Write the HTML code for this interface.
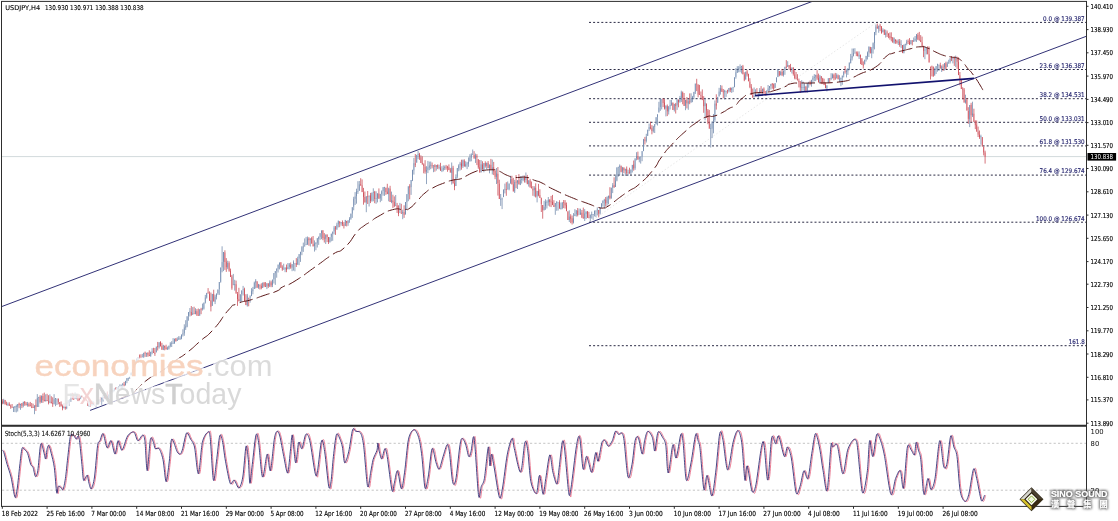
<!DOCTYPE html><html><head><meta charset="utf-8"><style>html,body{margin:0;padding:0;background:#fff;}svg{display:block;}</style></head><body><svg width="1118" height="521" viewBox="0 0 1118 521"><rect width="1118" height="521" fill="#fff"/><defs><clipPath id="cm"><rect x="2" y="2" width="1084" height="423"/></clipPath><clipPath id="cs"><rect x="2" y="427" width="1084" height="79"/></clipPath></defs><g clip-path="url(#cm)"><line x1="2" y1="156.6" x2="1086" y2="156.6" stroke="#d2dadc" stroke-width="1"/><line x1="590" y1="222" x2="877" y2="22" stroke="#dcdcdc" stroke-width="0.7" stroke-dasharray="1.5 2"/><line x1="589" y1="22.4" x2="1086" y2="22.4" stroke="#2a2a44" stroke-width="1" stroke-dasharray="2 2.1"/><text x="1084.7" y="20.7" font-family="'DejaVu Sans', 'Liberation Sans', sans-serif" font-size="6.4" fill="#24246e" stroke="#24246e" stroke-width="0.15" text-anchor="end" textLength="41.6" lengthAdjust="spacingAndGlyphs">0.0 @ 139.387</text><line x1="589" y1="69.5" x2="1086" y2="69.5" stroke="#2a2a44" stroke-width="1" stroke-dasharray="2 2.1"/><text x="1084.7" y="67.8" font-family="'DejaVu Sans', 'Liberation Sans', sans-serif" font-size="6.4" fill="#24246e" stroke="#24246e" stroke-width="0.15" text-anchor="end" textLength="45.1" lengthAdjust="spacingAndGlyphs">23.6 @ 136.387</text><line x1="589" y1="98.7" x2="1086" y2="98.7" stroke="#2a2a44" stroke-width="1" stroke-dasharray="2 2.1"/><text x="1084.7" y="97.0" font-family="'DejaVu Sans', 'Liberation Sans', sans-serif" font-size="6.4" fill="#24246e" stroke="#24246e" stroke-width="0.15" text-anchor="end" textLength="45.1" lengthAdjust="spacingAndGlyphs">38.2 @ 134.531</text><line x1="589" y1="122.3" x2="1086" y2="122.3" stroke="#2a2a44" stroke-width="1" stroke-dasharray="2 2.1"/><text x="1084.7" y="120.6" font-family="'DejaVu Sans', 'Liberation Sans', sans-serif" font-size="6.4" fill="#24246e" stroke="#24246e" stroke-width="0.15" text-anchor="end" textLength="45.1" lengthAdjust="spacingAndGlyphs">50.0 @ 133.031</text><line x1="589" y1="145.9" x2="1086" y2="145.9" stroke="#2a2a44" stroke-width="1" stroke-dasharray="2 2.1"/><text x="1084.7" y="144.2" font-family="'DejaVu Sans', 'Liberation Sans', sans-serif" font-size="6.4" fill="#24246e" stroke="#24246e" stroke-width="0.15" text-anchor="end" textLength="45.1" lengthAdjust="spacingAndGlyphs">61.8 @ 131.530</text><line x1="589" y1="175.1" x2="1086" y2="175.1" stroke="#2a2a44" stroke-width="1" stroke-dasharray="2 2.1"/><text x="1084.7" y="173.4" font-family="'DejaVu Sans', 'Liberation Sans', sans-serif" font-size="6.4" fill="#24246e" stroke="#24246e" stroke-width="0.15" text-anchor="end" textLength="45.1" lengthAdjust="spacingAndGlyphs">76.4 @ 129.674</text><line x1="589" y1="222.2" x2="1086" y2="222.2" stroke="#2a2a44" stroke-width="1" stroke-dasharray="2 2.1"/><text x="1084.7" y="220.5" font-family="'DejaVu Sans', 'Liberation Sans', sans-serif" font-size="6.4" fill="#24246e" stroke="#24246e" stroke-width="0.15" text-anchor="end" textLength="48.7" lengthAdjust="spacingAndGlyphs">100.0 @ 126.674</text><line x1="589" y1="345.7" x2="1086" y2="345.7" stroke="#2a2a44" stroke-width="1" stroke-dasharray="2 2.1"/><text x="1084.7" y="344.0" font-family="'DejaVu Sans', 'Liberation Sans', sans-serif" font-size="6.4" fill="#24246e" stroke="#24246e" stroke-width="0.15" text-anchor="end" textLength="15.9" lengthAdjust="spacingAndGlyphs">161.8</text><path d="M3.7 400.4V403.2M7.9 404.2V405M13.5 407.3V408.1M14.9 406.1V407.8M16.3 406V406.8M17.7 404V406.7M20.5 403.8V405M23.3 401.8V405.7M27.5 403.9V405.1M34.5 405.3V408.1M37.3 398.1V406.9M38.7 396.9V397.7M41.5 395.6V401.8M45.7 399.9V401.4M49.9 401.6V402.4M54.1 399.2V403.8M55.5 398.2V399M56.9 398.4V399.2M63.9 406.8V408.2M66.7 402.3V408.1M68.1 400.2V402.8M69.5 399.4V400.3M70.9 397.2V398.9M75.1 396.4V399M76.5 394.5V396.8M80.7 396.5V399.2M89.1 401.4V402.2M91.9 404.8V405.6M93.3 403V404.8M96.1 403.4V405.8M97.5 402.5V403.3M98.9 399.8V403.3M101.7 397.6V399.4M103.1 396.6V398M105.9 396.3V398.5M108.7 394.5V398M110.1 390.3V394.2M112.9 389.8V391.3M114.3 388.3V389.4M117.1 387.3V389.6M118.5 386.9V387.7M119.9 386V387.1M121.3 385.2V386M122.7 384.2V385.2M125.5 381V385.4M126.9 378.1V380.6M128.3 377.8V378.6M129.7 376.8V378.4M131.1 372.5V375.3M132.5 369.2V372.6M133.9 363.9V368.1M135.3 361.3V363.8M136.7 358.7V361.4M138.1 357.6V358.4M142.3 356.7V357.5M143.7 352.8V356.6M146.5 352.8V353.6M150.7 351.8V356.3M152.1 351.5V352.3M156.3 346.6V352.4M159.1 342.2V347.3M163.3 345.2V349.8M167.5 348.5V349.3M168.9 345.7V348.7M170.3 343.6V345.8M171.7 342.9V343.7M173.1 342.9V343.7M174.5 338.7V343.3M177.3 339.5V340.9M178.7 338.5V339.3M180.1 338.3V339.1M181.5 334.5V338.5M182.9 333.4V334.5M184.3 327.5V333.3M185.7 326.4V327.6M187.1 316.3V326.7M188.5 312.1V315.8M189.9 311.5V312.3M192.7 313.4V314.8M195.5 310.9V314.1M199.7 309.2V315.7M202.5 308.2V309M203.9 302.6V308.6M205.3 297.6V302.7M206.7 292.9V297.5M212.3 293.9V305.9M215.1 296.7V301.9M216.5 293.5V296.7M217.9 289.5V293.2M219.3 282V289.2M220.7 267.5V281.8M222.1 262.1V267.4M223.5 252V261.7M227.7 263V267.5M233.3 284.6V285.4M234.7 284V285.1M240.3 294.3V301.1M241.7 290.4V294M243.1 289.2V290M247.3 295.5V305.5M250.1 296.3V297.6M251.5 291.2V296M252.9 289.3V291.3M254.3 282.8V289M255.7 280.7V282.7M258.5 284.3V287.5M262.7 282.6V288M266.9 283.2V286.5M269.7 282.3V286.3M272.5 279.6V284.9M273.9 273.2V279.3M275.3 271.1V273.2M276.7 268.5V270.8M278.1 264.6V268.7M279.5 262.5V264.8M283.7 269.1V269.9M285.1 268V269.2M287.9 267.1V269.2M289.3 264.4V267.1M292.1 264.1V267.6M293.5 261.9V263.8M294.9 263V263.8M297.7 258.8V264.5M299.1 254.1V258.5M300.5 251.8V254.5M301.9 247.2V251.5M303.3 246.6V247.4M304.7 245.6V246.5M306.1 244.4V245.2M307.5 238.5V244.7M310.3 238.3V240M314.5 243.5V245.9M315.9 242.4V243.9M317.3 238.4V242.7M318.7 236.6V238.9M320.1 233.5V236.9M321.5 230.4V233.1M325.7 234.9V238.8M329.9 237.2V242.3M331.3 233.7V236.8M332.7 231.6V233.8M334.1 227.5V231.4M336.9 224.7V228.9M338.3 220.7V224.4M341.1 222V223.4M345.3 220.1V225.8M348.1 220.3V223.3M349.5 219V220M350.9 213.6V218.8M352.3 207.2V213.5M353.7 198.8V206.7M355.1 196.5V198.8M356.5 191.4V196.1M357.9 191.2V192M359.3 184.4V190.8M366.3 196.2V202.6M369.1 195.6V196.5M371.9 192.6V200.6M373.3 192.2V193M376.1 198.2V199.1M377.5 193.3V198.4M380.3 193.9V198.4M381.7 191.4V193.9M383.1 187.4V191.1M384.5 186.9V187.7M388.7 188.4V194.3M391.5 200.2V201.9M395.7 205.4V206.2M399.9 212.2V213M402.7 211.8V213.3M405.5 202V214.5M406.9 194.1V202.2M408.3 186.3V194.2M411.1 180V187.1M412.5 170V180.5M413.9 163.2V170.4M416.7 154.9V162.7M418.1 154.1V155.1M426.5 170.2V171.5M427.9 167.3V169.8M429.3 165.5V167.7M430.7 164.8V165.6M433.5 165.2V166M436.3 165.1V166.8M439.1 167.1V167.9M441.9 169.7V170.5M443.3 168.1V169.8M444.7 167.1V168.2M451.7 167.7V172.9M455.9 177V186M457.3 168V176.7M458.7 165.6V168.4M460.1 163.5V165.2M462.9 160.2V166.2M465.7 164.3V166M467.1 163.5V164.3M468.5 161.8V163.7M469.9 157.5V161.5M471.3 154.5V157.7M472.7 154.4V155.2M475.5 155.5V159M481.1 164.3V172.4M483.9 163.1V169.8M486.7 162.9V166M489.5 164.5V168.1M492.3 167.5V169.6M496.5 173.4V176.9M500.7 198.9V199.7M502.1 198.6V199.4M503.5 189.5V197.1M504.9 188.9V189.7M507.7 188.9V189.7M509.1 183.5V189.3M510.5 179.1V183.6M514.7 182V191.6M517.5 180.2V182.5M520.3 179.8V184.9M521.7 179.2V180M523.1 178V179.8M525.9 177.3V179.9M528.7 180.3V184.2M534.3 187.8V190.1M537.1 190.9V196.4M544.1 206.8V210.2M545.5 201.9V206.3M546.9 201.8V202.6M548.3 199.7V202.3M555.3 203V206.6M556.7 201.8V203.3M558.1 201.9V202.7M560.9 208.2V209M562.3 202.3V208M569.3 216.6V220.1M573.5 218.3V222.6M574.9 214.4V216.1M576.3 210.2V214.2M579.1 214.1V214.9M580.5 212.6V214.8M584.7 213.5V218.3M586.1 211.8V213.8M590.3 214.6V217.9M591.7 214V214.8M593.1 214V214.8M594.5 211.1V214.1M595.9 210.4V211.2M597.3 209.5V210.4M600.1 207.1V213.5M601.5 203.3V206.7M602.9 200.5V203M604.3 199.9V200.7M607.1 197.3V203M608.5 195.7V197.7M611.3 187.7V198.4M612.7 185.3V187.6M615.5 180.6V186.9M616.9 167.4V180.6M618.3 166.7V167.5M619.7 165.8V167.1M622.5 167.7V171.7M625.3 168.8V170.7M628.1 172.4V173.2M630.9 169.5V173.3M632.3 164.9V169.4M635.1 158.5V168.2M636.5 156.3V158.1M639.3 157.1V159.2M640.7 156.4V157.2M642.1 151.1V156.2M643.5 139.3V150.9M646.3 136.6V141M647.7 129.7V135.9M649.1 127.1V129.2M653.3 126.5V131.2M654.7 124.1V126.9M656.1 117.2V124.2M657.5 114.3V116.8M658.9 107.5V112.5M660.3 98.6V107M661.7 98.9V99.7M665.9 106V108.6M668.7 106.2V111.5M670.1 105V106.1M671.5 102.7V104.9M674.3 104V109.8M677.1 100V105.3M679.9 99.9V101.8M681.3 92.3V100.1M685.5 99.8V105.7M688.3 101.3V103.7M691.1 98.5V102.4M692.5 97.1V98.1M693.9 91.9V97M695.3 83.6V92.3M705.1 102.7V106.1M710.7 128.1V128.9M712.1 121.6V128.7M713.5 120.2V121.4M714.9 103.6V119.9M717.7 96.9V102.8M719.1 91.6V96.5M720.5 88.2V91.7M724.7 90.5V92.2M726.1 90.6V91.4M728.9 88V91.1M731.7 87.7V90M733.1 86.7V87.5M734.5 77.3V87.2M735.9 72.3V76.9M737.3 69.7V72.8M738.7 68.2V69.3M740.1 66.8V68.2M741.5 65.9V66.9M745.7 71.7V79.6M754.1 95.8V96.9M755.5 92.7V95.4M758.3 92.2V93.5M759.7 90.3V92.1M762.5 88.7V93.2M766.7 90.9V94.6M768.1 88.4V90.9M769.5 86V88M770.9 83.9V86.1M775.1 83.1V87.9M776.5 77.4V82.3M777.9 69.2V77.1M780.7 72.1V75.3M783.5 70.5V74.9M784.9 66.8V70.3M787.7 65.1V66.9M791.9 68V68.8M801.7 86.9V87.7M803.1 87V87.8M804.5 86.8V87.6M807.3 82.8V90.3M808.7 82.4V83.2M811.5 79.9V84M812.9 77.9V79.8M814.3 77.1V78M815.7 74.8V76.7M819.9 76.3V82.2M826.9 85.3V88.3M828.3 78.2V83.1M831.1 77.8V78.9M832.5 74.6V78M836.7 75V78.4M839.5 78.7V79.5M840.9 77.7V79.2M842.3 75.6V77.5M843.7 71.4V75.1M846.5 70.9V71.8M847.9 68.3V71.3M849.3 62.5V68.7M850.7 58.8V63M852.1 56V58.4M853.5 53.2V55.8M854.9 52.9V53.7M859.1 55.1V56.5M864.7 59.7V64.4M866.1 55.9V59.4M867.5 52.6V56.3M868.9 46.5V52.2M871.7 48.7V53.1M873.1 43.2V48.5M874.5 32V43.1M875.9 26.6V32.4M878.7 25.7V29M882.9 29.9V32.3M885.7 32.8V35M894.1 38.2V42.7M898.3 41.8V42.6M901.1 44.2V45M903.9 44.6V52.7M905.3 43.8V44.8M906.7 41.7V43.6M910.9 40.4V44.3M913.7 40.2V41.8M915.1 38.8V40.4M916.5 34.5V38.7M924.9 49.5V50.7M926.3 48.6V49.4M934.7 69.5V75.6M936.1 66.1V69.6M937.5 63.8V65.7M938.9 64.4V65.2M941.7 66.3V69M944.5 63.1V67.1M947.3 63.5V66.9M948.7 62.5V63.4M950.1 58.5V62.1M952.9 57.6V58.6M955.7 58.5V59.3M965.5 100.3V102.5M969.7 105V119.3M972.5 113.6V115.4M980.9 136V137.2" stroke="#a4b8d6" stroke-width="0.85" fill="none"/><path d="M2.3 401.5V403.3M5.1 400V404.5M6.5 404.4V405.2M9.3 404.1V405.9M10.7 405.8V406.6M12.1 406.9V407.8M19.1 403.8V405.1M21.9 403.3V405.9M24.7 401.6V403.6M26.1 403.6V404.9M28.9 404.3V405.9M30.3 405.4V406.3M31.7 406.7V407.6M33.1 407.2V408M35.9 404.8V406.8M40.1 396.7V402M42.9 396V400.2M44.3 399.9V401.3M47.1 400V401.1M48.5 401.4V402.5M51.3 401.9V403.4M52.7 403.2V404M58.3 398.8V402M59.7 402.1V403.9M61.1 403.9V406.4M62.5 405.9V408.2M65.3 407V408.2M72.3 397.4V399.3M73.7 398.8V399.6M77.9 394.7V398.9M79.3 398.7V400.3M82.1 396.5V397.6M83.5 397.3V399.2M84.9 399.1V400M86.3 400.3V401.1M87.7 401.4V402.2M90.5 401.4V406.3M94.7 402.8V405.6M100.3 399.3V400.1M104.5 396.8V398.1M107.3 396.4V397.8M111.5 390.4V391.2M115.7 388.6V389.6M124.1 384.4V386M139.5 356.9V357.7M140.9 356.9V357.9M145.1 352.7V353.5M147.9 352.6V354.7M149.3 354.9V356.1M153.5 351.8V352.9M154.9 352.7V353.9M157.7 346.1V347M160.5 342V346.4M161.9 346.1V349.8M164.7 345.7V347.6M166.1 347.5V349.3M175.9 338.2V341.1M191.3 312V315.4M194.1 313.5V314.3M196.9 311.2V314.7M198.3 314.9V315.8M201.1 308.9V309.7M208.1 292.6V293.5M209.5 293.8V300.8M210.9 300.4V306.8M213.7 294V301.5M224.9 252.5V262M226.3 261.7V267.2M229.1 263.1V270.8M230.5 270.8V277M231.9 276.5V288.3M236.1 284.3V293.6M237.5 294.1V299M238.9 299.3V301.3M244.5 289.4V301.3M245.9 301.3V305.1M248.7 297.6V298.4M257.1 281.3V287.8M259.9 284.6V285.4M261.3 285.8V288.2M264.1 282.9V285.8M265.5 286V286.9M268.3 283.4V286.2M271.1 282.4V285.3M280.9 262.2V267.8M282.3 267.5V269.5M286.5 267.6V270M290.7 264.7V267.5M296.3 263V264.8M308.9 238.5V240.2M311.7 238.2V243.7M313.1 244.2V246.4M322.9 230.7V238.1M324.3 237.7V238.5M327.1 234.9V237M328.5 237V242.1M335.5 227.6V228.6M339.7 221.3V223.2M342.5 222.4V224.2M343.9 224.5V225.8M346.7 220.9V222.9M360.7 184.3V185.7M362.1 185.3V192.1M363.5 192.6V196.9M364.9 197V202.5M367.7 196.3V197.1M370.5 195.4V201.1M374.7 191.8V199M378.9 193.6V198.8M385.9 187.7V192M387.3 191.7V194.1M390.1 188.7V202M392.9 200.6V202.2M394.3 202.1V206.2M397.1 205.5V208.8M398.5 208.7V214M401.3 212.9V213.8M404.1 212.2V214.8M409.7 186.3V187.5M415.3 163.5V164.8M419.5 154.3V157.2M420.9 157.3V163M422.3 163.1V164.6M423.7 164.6V166.1M425.1 166.6V171.7M432.1 165.2V166.3M434.9 165.1V167M437.7 164.7V167.3M440.5 167.5V170.6M446.1 166.7V167.5M447.5 166.8V167.6M448.9 167.2V170.1M450.3 169.6V172.6M453.1 167.8V183.5M454.5 183.3V186.7M461.5 163.4V166.6M464.3 160.7V166.4M474.1 155V158.6M476.9 155.8V157.5M478.3 159.2V167.3M479.7 167.3V172.6M482.5 164.6V169.7M485.3 163.1V165.7M488.1 162.8V168.2M490.9 164.8V169.6M493.7 167.2V171.4M495.1 171V176.8M497.9 173.8V183.3M499.3 183.7V199M506.3 189.2V190M511.9 178.9V184.4M513.3 184.3V191.5M516.1 181.6V182.6M518.9 180.3V184.4M524.5 178V180.2M527.3 177.8V184.2M530.1 180.7V186.9M531.5 187.3V188.4M532.9 188.8V190.4M535.7 187.8V196.7M538.5 191V195.2M539.9 195.1V198M541.3 198.2V203.9M542.7 205V210.3M549.7 199.7V202M551.1 201.5V202.3M552.5 202V205.1M553.9 205.2V207M559.5 202.3V208.7M563.7 202.2V203M565.1 202.8V205.4M566.5 205.1V211.2M567.9 211.3V220M570.7 216.5V218.8M572.1 218.3V222.5M577.7 210.7V215M581.9 212.7V217.5M583.3 217.5V218.6M587.5 211.6V217.9M588.9 217.6V218.4M598.7 210V213.7M605.7 199.6V203.5M609.9 195.7V198.1M614.1 185.2V187.2M621.1 166.2V171.8M623.9 167.8V170.3M626.7 168.8V173.2M629.5 172.5V173.3M633.7 164.5V168.4M637.9 156.2V159.5M644.9 139.7V140.6M650.5 127.3V128.3M651.9 128.2V131M663.1 99.1V103M664.5 102.6V108.5M667.3 106.3V111.3M672.9 103V110M675.7 104.4V105.8M678.5 99.7V102.1M682.7 92.5V97.8M684.1 98.1V106M686.9 100.2V103.3M689.7 101.5V102.3M696.7 83.6V84.4M698.1 84.4V94.6M699.5 94.2V95M700.9 95.3V96.1M702.3 96.1V100.1M703.7 99.7V106.2M706.5 103.5V110.3M707.9 110.5V122.4M709.3 122.2V128.7M716.3 103.5V105.6M721.9 88.5V91.9M723.3 91.5V92.3M727.5 90.5V91.3M730.3 87.9V90.1M742.9 66.3V74.3M744.3 74.4V80.3M747.1 71.4V74.6M748.5 74.1V81.3M749.9 81.7V87.1M751.3 86.8V95M752.7 95.4V97.3M756.9 92.5V93.3M761.1 90.1V93.5M763.9 88.7V93.6M765.3 93.6V94.4M772.3 83.8V84.6M773.7 84.3V89.2M779.3 71V75.3M782.1 71.9V74.9M786.3 66.7V67.5M789.1 65.1V67.6M790.5 67.6V68.9M793.3 68V74M794.7 74.5V78.7M796.1 78.7V79.5M797.5 79.6V80.4M798.9 80.7V82.3M800.3 82.5V87.6M805.9 86.9V90.8M810.1 82.2V84.2M817.1 75.2V78.5M818.5 78.2V82.4M821.3 76.4V78.6M822.7 78.5V82.3M824.1 82V85.1M825.5 84.7V88.2M829.7 78.1V78.9M833.9 75.1V78.1M835.3 77.7V78.5M838.1 75.4V79.1M845.1 70.9V71.7M856.3 52.6V53.4M857.7 53.4V56.3M860.5 55.2V56.9M861.9 58.2V64.9M863.3 64.5V65.7M870.3 46.9V53.4M877.3 26.8V28.6M880.1 25.5V26.7M881.5 26.7V33.5M884.3 29.6V34.9M887.1 32.5V33.3M888.5 33.4V35.4M889.9 35.8V37.7M891.3 37.2V38M892.7 37.7V42.6M895.5 39.4V41M896.9 41V42.5M899.7 41.4V44.8M902.5 45.1V53.1M908.1 41.2V42M909.5 41.9V44.8M912.3 40.4V41.4M917.9 34.8V39.4M919.3 39.7V40.5M920.7 40.2V42.1M922.1 42.3V46.2M923.5 46.3V50.7M927.7 48.7V54.3M929.1 54.2V62.5M930.5 66.5V67.3M931.9 66.5V67.3M933.3 66.6V76.3M940.3 65V68.5M943.1 66.7V67.5M945.9 63.2V68.8M951.5 58.5V59.3M954.3 57.3V58.7M957.1 58.8V61.8M958.5 61.9V75.1M959.9 75.3V79.1M961.3 79.3V89M962.7 88.8V89.6M964.1 89.5V102.6M966.9 100V110.6M968.3 111V118.8M971.1 104.8V115.3M973.9 113.7V121.9M975.3 121.4V125.2M976.7 124.7V131.7M978.1 131.6V134.6M979.5 134.7V137.2M982.3 137.1V146.5M983.7 147V152.4M985.1 152.5V156.8" stroke="#ec9098" stroke-width="0.85" fill="none"/><path d="M3.7 398.8V404.1M7.9 402.5V406.1M13.5 406.6V412M14.9 406.1V412.1M16.3 404.7V412.4M17.7 404V411.5M20.5 403.8V409.8M23.3 401.8V407.3M27.5 401.9V406.7M34.5 405.3V414.2M37.3 394.1V407M38.7 396.9V407M41.5 395.6V402.9M45.7 394.3V401.4M49.9 394.4V403.2M54.1 394.2V404.5M55.5 398V406.2M56.9 398.8V405M63.9 403.2V408.3M66.7 402V409.2M68.1 400.2V405.9M69.5 399.4V405.8M70.9 393.2V401.9M75.1 392.4V399M76.5 393.8V399.3M80.7 395.5V399.2M89.1 399V406.7M91.9 400.7V405.4M93.3 401.4V405.2M96.1 403.2V407.2M97.5 399.3V404.7M98.9 399.1V403.8M101.7 397.6V404.8M103.1 394.8V401.6M105.9 392.9V399.3M108.7 394.5V398.9M110.1 390.3V394.2M112.9 389.8V392.5M114.3 388.3V391.5M117.1 387.3V389.6M118.5 386.2V389.2M119.9 384.4V387.6M121.3 384.6V389.4M122.7 383.1V388.5M125.5 380.8V385.4M126.9 378.1V383.2M128.3 377.8V380.9M129.7 376.8V378.7M131.1 372.5V375.3M132.5 369.2V372.7M133.9 363.9V368.1M135.3 361.3V365.1M136.7 358.4V362.9M138.1 357.7V362.7M142.3 353.9V357.3M143.7 352.8V358.1M146.5 352.8V356.9M150.7 351.8V356.7M152.1 348.2V354.3M156.3 346.6V352.4M159.1 342.2V348.6M163.3 344.8V350.1M167.5 346.6V349.9M168.9 345.7V349.6M170.3 342.2V347.3M171.7 341.2V347M173.1 338.1V343.9M174.5 338.7V343.8M177.3 337.3V340.9M178.7 336.2V339.9M180.1 336.3V340M181.5 334.5V339.3M182.9 329.3V336.5M184.3 324.3V335.8M185.7 320.2V329.9M187.1 316.3V327.3M188.5 312.1V320.7M189.9 308V316.5M192.7 307.1V314.8M195.5 308.2V314.3M199.7 309.2V315.8M202.5 303.6V310.5M203.9 302.6V309.6M205.3 294.9V303.5M206.7 292.9V298.6M212.3 293.9V305.9M215.1 294.7V304.1M216.5 293.5V299.4M217.9 289.5V294.8M219.3 282V294.9M220.7 267.5V282.7M222.1 246.3V272.3M223.5 252V271.1M227.7 260.7V269.2M233.3 273.9V285M234.7 279.8V290.6M240.3 294.3V302.8M241.7 290.4V301.6M243.1 285.9V295.5M247.3 293.9V306.6M250.1 295.3V302.7M251.5 288.2V296.2M252.9 286.9V294.3M254.3 281.6V289M255.7 279.1V288.4M258.5 283.9V288.8M262.7 282.6V288M266.9 283.2V289.1M269.7 280.4V287M272.5 279.6V287.1M273.9 273V283.5M275.3 271.1V284.9M276.7 268.5V277.7M278.1 264.6V272.5M279.5 262.5V269.4M283.7 263.7V269.5M285.1 267.1V272.2M287.9 263V269.2M289.3 263V269.4M292.1 264.1V271.2M293.5 260.4V270.6M294.9 263.4V271.3M297.7 256.7V264.9M299.1 254.1V265.2M300.5 251.8V261.9M301.9 246.1V255.2M303.3 242.6V251.9M304.7 238.4V246.5M306.1 236.9V245M307.5 236.5V244.8M310.3 238.3V246.5M314.5 240.4V251.6M315.9 242.4V250.2M317.3 238V247.5M318.7 236.6V244.9M320.1 233V239.8M321.5 230.4V239.2M325.7 234.3V244M329.9 237.2V242.5M331.3 233.7V241.3M332.7 231.6V240.8M334.1 225.9V234.4M336.9 222.7V230M338.3 220.6V227.4M341.1 222V225.7M345.3 219.9V226.1M348.1 220.3V225.8M349.5 217.2V222.8M350.9 213.6V219.8M352.3 207.2V217.9M353.7 196.8V210.3M355.1 192.1V205M356.5 188.7V203.7M357.9 181.2V193.9M359.3 181V190.8M366.3 196.2V212.2M369.1 195.6V206.5M371.9 192.6V201.7M373.3 188.3V201.3M376.1 191.3V203.8M377.5 193.3V202.4M380.3 193.9V202.2M381.7 190.4V200.8M383.1 187V195.7M384.5 186.9V195.9M388.7 187.7V201.3M391.5 191.6V203.2M395.7 195V205.9M399.9 202.9V212.6M402.7 209.7V219.2M405.5 202V214.5M406.9 194.1V209.3M408.3 186.3V201.2M411.1 180V194.9M412.5 169.7V181.1M413.9 157.9V174.6M416.7 154.9V162.7M418.1 151V159.2M426.5 166.2V184.1M427.9 160.9V173.1M429.3 161.6V170.2M430.7 161.5V169.2M433.5 165.3V172.2M436.3 165V170.6M439.1 164.7V169.4M441.9 166.2V172.1M443.3 165.4V171.3M444.7 165.5V170M451.7 162.5V184.6M455.9 174.4V186M457.3 168V178.5M458.7 164.3V171.3M460.1 161.8V170.5M462.9 159.5V168M465.7 161.3V167.2M467.1 161.9V169.1M468.5 157.4V166.8M469.9 154.2V161.5M471.3 153.3V161.3M472.7 149.5V154.9M475.5 153.6V162.9M481.1 160.1V172.4M483.9 163.1V172.3M486.7 162.6V169.5M489.5 164.5V173.3M492.3 159.6V174.5M496.5 168V184M500.7 194V205.9M502.1 197.6V209.1M503.5 189.5V197.1M504.9 183.6V193.4M507.7 181.5V189.3M509.1 183.5V190.3M510.5 175.8V183.6M514.7 179.8V193M517.5 180.2V189M520.3 176.1V185.1M521.7 176.4V183.5M523.1 175.4V181.2M525.9 172.5V182.7M528.7 180.2V186.6M534.3 186.2V196.5M537.1 190.9V202.4M544.1 200.8V210.4M545.5 199.3V209.8M546.9 200.3V208.5M548.3 197V205.7M555.3 203V214.8M556.7 201.1V210.8M558.1 202.3V210.6M560.9 202.5V209.6M562.3 202.3V209.2M569.3 210.3V222M573.5 213.1V223.5M574.9 209.1V216.1M576.3 210.2V216.6M579.1 208.5V214.5M580.5 208.7V214.8M584.7 209.1V221M586.1 211.2V219.1M590.3 214.6V221.1M591.7 211.6V218.6M593.1 214V219.7M594.5 210.4V216.4M595.9 210.5V217.1M597.3 207.3V215.4M600.1 207.1V214.6M601.5 203.3V208M602.9 200.5V206.5M604.3 198.8V208.6M607.1 196.3V205.8M608.5 195.7V204.2M611.3 187.7V198.7M612.7 183.1V193.1M615.5 175.6V187M616.9 167.4V181.3M618.3 166.9V176.7M619.7 164.4V175.2M622.5 166.9V175.2M625.3 168.8V176M628.1 169.7V175.9M630.9 169.5V174.8M632.3 164.9V172.5M635.1 158.3V169.9M636.5 152.2V160.3M639.3 156.6V162.3M640.7 156.6V163.6M642.1 151.1V161.2M643.5 138.9V151.2M646.3 133.8V142.5M647.7 129.7V135.9M649.1 123.6V131.1M653.3 125.9V132.6M654.7 124.1V133M656.1 117.2V124.4M657.5 114.3V125.5M658.9 101.8V112.5M660.3 98.6V110.9M661.7 99.3V109.4M665.9 105.2V116.4M668.7 106.2V114.5M670.1 99.9V109.5M671.5 100V105.8M674.3 103.8V111.5M677.1 98.9V109.9M679.9 95.9V102.8M681.3 90.7V102M685.5 99.8V110.2M688.3 98.9V109.8M691.1 93.3V102.7M692.5 95.9V102.2M693.9 91.9V99.2M695.3 83.6V94M705.1 97.8V120.3M710.7 123.8V147.5M712.1 121.6V138.1M713.5 114V133.3M714.9 100.5V122.2M717.7 96.9V102.8M719.1 87.8V96.5M720.5 85V94.6M724.7 89.8V99.5M726.1 91V96.9M728.9 88V92.4M731.7 87.7V92.9M733.1 87V92.1M734.5 77.3V87.2M735.9 68V78.7M737.3 66.2V72.9M738.7 66.1V72.3M740.1 64.4V72.2M741.5 65.9V73.5M745.7 71.7V79.6M754.1 87.5V97.6M755.5 89.3V95.4M758.3 92.2V98.5M759.7 88.1V95.5M762.5 88.7V94.5M766.7 90.3V95.6M768.1 85V91.1M769.5 86V90.8M770.9 83.9V89.5M775.1 83.1V87.9M776.5 77.4V82.3M777.9 69.2V77.1M780.7 70.8V75.3M783.5 70.5V76.6M784.9 66.8V74.8M787.7 61.2V66.9M791.9 67.2V73.5M801.7 80.2V91.9M803.1 81.6V90.8M804.5 83.1V91.5M807.3 82.8V92.7M808.7 81.8V87.7M811.5 79.8V86.7M812.9 75.8V82.7M814.3 74.1V81.3M815.7 74.8V81.1M819.9 74.9V82.6M826.9 85.3V91.4M828.3 78.2V83.1M831.1 73.2V80.2M832.5 73.4V78.5M836.7 73.3V78.4M839.5 75.2V82.2M840.9 77.7V86.2M842.3 75.6V84.8M843.7 71.4V77.4M846.5 69.3V77.4M847.9 68.3V74.9M849.3 62.5V70.2M850.7 53.9V63.5M852.1 48.5V60.5M853.5 48.5V56.4M854.9 48.2V53.3M859.1 51.4V59M864.7 59.7V64.4M866.1 55.9V61.5M867.5 51.5V59.5M868.9 46.5V57M871.7 47.1V58.2M873.1 42.4V53.6M874.5 32V49.4M875.9 24.5V35.2M878.7 25.7V32.8M882.9 28.3V32.3M885.7 29.7V37.6M894.1 37.4V43.7M898.3 39.3V45M901.1 40.1V48.1M903.9 44.6V53.4M905.3 43.8V49M906.7 39.8V45.3M910.9 40V44.3M913.7 37.5V41.9M915.1 36V41.6M916.5 34V41.9M924.9 46.3V59.2M926.3 47.5V54.4M934.7 67.8V75.6M936.1 66.1V74M937.5 63.8V71.7M938.9 64.8V71M941.7 65.4V72M944.5 63.1V70.5M947.3 61.7V66.9M948.7 59.8V63.8M950.1 58.1V63.5M952.9 57.1V63.4M955.7 55.6V67.1M965.5 94.7V103.6M969.7 105V127.1M972.5 101.7V117M980.9 134.7V144.7" stroke="#58749c" stroke-width="0.65" fill="none"/><path d="M2.3 399.2V404.3M5.1 399.9V404.5M6.5 401.7V405.3M9.3 402.3V405.9M10.7 404.5V408.8M12.1 404V407.8M19.1 402.6V408.2M21.9 403V408.1M24.7 401.1V405.8M26.1 402V405.6M28.9 402.6V406.8M30.3 401.9V406.3M31.7 403V408.1M33.1 403.7V408M35.9 399.4V410.9M40.1 395.2V403.5M42.9 393.5V402.9M44.3 392.6V401.3M47.1 393.8V401.1M48.5 395.2V404.4M51.3 396.2V403.4M52.7 397.3V406.9M58.3 398.4V404.3M59.7 402.1V406.9M61.1 401.4V406.4M62.5 404.4V410.3M65.3 403.2V409.7M72.3 392.8V399.3M73.7 393.7V399.8M77.9 393.9V401.1M79.3 394.3V401.2M82.1 395.6V397.6M83.5 397.2V399.6M84.9 398.1V400.8M86.3 398.6V401.1M87.7 400.5V406M90.5 400.7V406.5M94.7 401.8V405.9M100.3 397V402.2M104.5 392.8V398.7M107.3 391.7V399.2M111.5 389.1V391.9M115.7 387.4V389.8M124.1 381.9V387.5M139.5 354.5V359M140.9 354.3V358.4M145.1 351.6V356.9M147.9 352.4V356.8M149.3 350.3V356.1M153.5 347.8V352.9M154.9 348V355.9M157.7 341.9V350.5M160.5 341.2V346.4M161.9 342.8V349.8M164.7 345.7V350.3M166.1 344.7V349.6M175.9 338.2V341.7M191.3 306V315.7M194.1 306.7V314M196.9 309.1V316M198.3 308.5V315.8M201.1 307.8V314.2M208.1 288.1V293.5M209.5 291.4V300.8M210.9 292.5V311.4M213.7 289.7V301.5M224.9 250.3V269.9M226.3 258.1V271.9M229.1 261.3V271.8M230.5 268.6V277M231.9 274.9V289.8M236.1 280.6V293.6M237.5 292V305.9M238.9 287.8V301.3M244.5 287.7V301.3M245.9 294.2V305.1M248.7 297.9V306.3M257.1 281.3V287.8M259.9 284.6V289.5M261.3 283.3V289.3M264.1 282V287.1M265.5 282.1V286.9M268.3 283.2V287.9M271.1 280.7V287.2M280.9 262.2V267.8M282.3 265.3V270.8M286.5 264.5V272.2M290.7 262.5V268.8M296.3 258.1V267M308.9 237.1V245.7M311.7 236.8V243.7M313.1 236V246.4M322.9 230V240.2M324.3 233.1V242.5M327.1 234.2V242.1M328.5 237V244M335.5 226V234.9M339.7 221.3V227.2M342.5 220.4V226.1M343.9 222.1V228.5M346.7 220.9V226.4M360.7 178.2V185.7M362.1 179.4V192.1M363.5 187.9V204.7M364.9 191.5V202.5M367.7 191V204M370.5 192.9V203.1M374.7 190.9V203.2M378.9 188.4V198.8M385.9 187.7V194.8M387.3 183.8V194.1M390.1 185.8V202M392.9 194.7V208M394.3 196.4V207.1M397.1 202.9V212.9M398.5 205.3V216.2M401.3 203.8V213.8M404.1 205.3V217.9M409.7 184.2V199.4M415.3 154V167.1M419.5 152.9V159.9M420.9 155.3V163M422.3 156.3V164.6M423.7 163.4V173.3M425.1 160.2V173.7M432.1 162.5V168.4M434.9 164.2V171.7M437.7 164.5V169.1M440.5 162.8V170.9M446.1 164.9V169.7M447.5 165.8V171.8M448.9 164.4V170.1M450.3 167.9V172.6M453.1 165.8V183.5M454.5 179.1V190.2M461.5 159.7V169.7M464.3 159.3V166.7M474.1 151.2V158.6M476.9 154.1V165.1M478.3 159.2V168.8M479.7 160V172.6M482.5 161.3V169.7M485.3 161.3V167.6M488.1 161V168.2M490.9 158.9V169.6M493.7 161.9V175.1M495.1 169.8V179.2M497.9 167V195.6M499.3 179.7V199M506.3 182.2V195.8M511.9 175.8V184.4M513.3 177.9V191.5M516.1 175V188.2M518.9 174.1V184.4M524.5 175.6V182.6M527.3 174.9V184.2M530.1 178.9V187.8M531.5 181.5V188.4M532.9 186.1V195.8M535.7 183.3V197.5M538.5 183.9V196.3M539.9 189.3V198M541.3 197.6V212M542.7 205V218.7M549.7 199.2V206.6M551.1 195.9V207.1M552.5 194.9V205.1M553.9 200.2V207M559.5 200.2V208.7M563.7 200V208.1M565.1 200.1V208.6M566.5 202.5V211.2M567.9 211.3V220M570.7 214.2V223.2M572.1 215.5V224.5M577.7 208V216.4M581.9 210V218.1M583.3 207.6V218.6M587.5 211V217.9M588.9 211.8V218.1M598.7 210V217.4M605.7 197V206.6M609.9 187.2V199.4M614.1 177.3V187.9M621.1 165.5V172.3M623.9 167.2V173.2M626.7 166.5V174.5M629.5 167.7V173.7M633.7 160.5V170.7M637.9 151.6V159.8M644.9 136.9V144.5M650.5 121.7V129.4M651.9 125.1V134.3M663.1 98.1V107.1M664.5 99.2V109.5M667.3 104.5V116.1M672.9 102.3V110M675.7 102.9V113.5M678.5 99.5V107.3M682.7 91.5V104.3M684.1 93V106M686.9 97V108.4M689.7 93.4V104.2M696.7 78.8V91.1M698.1 84.4V97.3M699.5 84.9V94.8M700.9 91.5V99.3M702.3 89.4V100.1M703.7 96.2V112.8M706.5 103.5V117.9M707.9 109V124.2M709.3 109.9V128.7M716.3 94.3V109.6M721.9 85.5V91.9M723.3 89V98.3M727.5 89.7V93.6M730.3 87.4V92.2M742.9 64.9V74.3M744.3 72.3V81.2M747.1 69.8V76.5M748.5 73.7V81.3M749.9 78.2V88.2M751.3 84.1V95M752.7 88.6V97.8M756.9 88.1V93.8M761.1 86.1V93.5M763.9 87.4V93.6M765.3 91V95.8M772.3 83V88.7M773.7 83.5V89.9M779.3 71V76.3M782.1 69V76.1M786.3 60.1V68.5M789.1 65.1V69.7M790.5 63.9V71.8M793.3 67.1V75.6M794.7 70.1V78.7M796.1 72V79.2M797.5 74.2V80.4M798.9 78.6V87.4M800.3 81V92.9M805.9 85.9V92.4M810.1 80.6V85.3M817.1 70.2V79.9M818.5 73.6V82.4M821.3 76V84.1M822.7 77.8V84.1M824.1 78.7V85.1M825.5 82.5V88.2M829.7 78.2V83.1M833.9 73.6V80.4M835.3 72.9V79.8M838.1 74.5V79.5M845.1 66V73.6M856.3 51.4V56.1M857.7 51.4V56.3M860.5 54.5V64.1M861.9 58.2V64.9M863.3 61.4V68.5M870.3 46.9V53.4M877.3 23.6V28.6M880.1 23.9V31.2M881.5 26V33.5M884.3 29.4V34.9M887.1 30.5V37M888.5 33.3V38.2M889.9 32.4V39.7M891.3 32.3V41.3M892.7 37V42.6M895.5 39.4V43.8M896.9 39.7V43.8M899.7 39V46.8M902.5 45.1V53.1M908.1 39.4V44M909.5 38.1V44.8M912.3 40.2V45.4M917.9 32.9V40.1M919.3 31.9V40.5M920.7 35.1V42.1M922.1 36.6V46.2M923.5 45.8V57.2M927.7 46.2V54.3M929.1 46.5V62.5M930.5 66.8V79.5M931.9 65.6V76.4M933.3 66.6V76.8M940.3 62.7V68.5M943.1 64.2V71M945.9 61.7V69.3M951.5 56V61.1M954.3 56.6V65.9M957.1 56.7V68.9M958.5 57.3V75.1M959.9 72V85.3M961.3 78.8V89M962.7 87.2V99.3M964.1 88V102.6M966.9 97.9V110.6M968.3 107.2V123.8M971.1 102.8V122.4M973.9 108.7V121.9M975.3 120.2V129.1M976.7 120.4V131.7M978.1 126.6V137M979.5 130.5V138.9M982.3 137.1V146.5M983.7 146.4V155.4M985.1 150.7V163.6" stroke="#c02a36" stroke-width="0.65" fill="none"/><path d="M116 401C118.2 399.8 117.3 399.9 122.7 397.5C128.1 395.1 127.3 396.8 132.2 393.8C137.1 390.8 132.6 393.1 137.5 388.5C142.4 383.9 141 384.6 147 380C153 375.4 149.8 378.3 155.4 374.8C161 371.3 157.4 374.1 163.9 369.5C170.4 364.9 167 366.9 175 361C183 355.1 179.7 358.4 188 351.8C196.3 345.2 191.4 348.9 200 341.3C208.6 333.7 204.3 339.4 213.8 329C223.3 318.6 220.8 318.4 228.5 310C236.2 301.6 229.3 307.3 237 303.8C244.7 300.3 242.7 302.4 251.7 299.6C260.7 296.8 255.6 298.3 264 295.4C272.4 292.5 270.8 293.8 277 291C283.2 288.2 276.5 290.3 282.5 287C288.5 283.7 284.2 287.7 295 281C305.8 274.3 302.7 275.7 315 267C327.3 258.3 322.1 261.4 332 254.8C341.9 248.2 336.5 254.9 344.8 247.3C353.1 239.7 350.7 239.1 357 232C363.3 224.9 359.5 229.3 363.8 226C368.1 222.7 364.9 225.3 370 222C375.1 218.7 371.5 220.1 379 216C386.5 211.9 384.3 211.9 392.6 209.7C400.9 207.5 398.2 210.1 404 209.5C409.8 208.9 405.5 211 410 208C414.5 205 412.6 205.5 417.6 200.5C422.6 195.5 419.9 197.2 425 193C430.1 188.8 426.5 191.2 433 187.8C439.5 184.4 438.2 185.3 444.5 182.8C450.8 180.3 446.8 181.6 452 180.3C457.2 179 456.2 180 460 179C463.8 178 458.4 179.8 463.4 177.4C468.4 175 469.2 173.9 475 171.7C480.8 169.5 475 171.3 480.7 170.7C486.4 170.1 486.2 169.8 492 169.8C497.8 169.8 492.8 168.8 498 170.7C503.2 172.6 501.9 173.3 507.6 175.5C513.3 177.7 508.6 176.8 515 177.4C521.4 178 520.3 176.4 526.8 177.4C533.3 178.4 529.4 178.4 534.5 180.3C539.6 182.2 535.9 180.1 542 183C548.1 185.9 542.8 184.2 552.7 189C562.6 193.8 559.7 192.6 571.6 197.5C583.5 202.4 580 200.6 588.5 203.8C597 207 592.1 205.6 597 207C601.9 208.4 599.6 208.3 603.3 208C607 207.7 604.5 208.2 608 206.2C611.5 204.2 609.5 205.2 613.8 202C618.1 198.8 616.1 200.1 621 196.5C625.9 192.9 622.3 195.5 628.6 191.2C634.9 186.9 631.9 190.6 640 183.5C648.1 176.4 645.8 178.8 653 170C660.2 161.2 655.3 165.5 661.6 157C667.9 148.5 664.2 152.8 672 144.4C679.8 136 677.2 138.7 685 131.7C692.8 124.7 688.4 128.2 695.4 123.3C702.4 118.4 699.7 119.4 706 117C712.3 114.6 708.7 117.6 714.4 116C720.1 114.4 718.1 114.7 723 112.2C727.9 109.7 724.9 110.8 729 108.5C733.1 106.2 731.2 108.5 735.4 105.3C739.6 102.1 736.4 102.8 741.5 99C746.6 95.2 742.5 96.1 750.7 93.8C758.9 91.5 758.3 93.2 766 92.2C773.7 91.2 767.6 92.5 773.8 90.7C780 88.9 778.9 89.2 784.5 86.9C790.1 84.6 785.1 85.1 790.7 83.8C796.3 82.5 794.3 83.3 801.4 83C808.5 82.7 798.8 83.4 812 83C825.2 82.6 827.3 83.6 841 81.7C854.7 79.8 846.7 80 853 77.4C859.3 74.8 852.5 77.5 860 74C867.5 70.5 866.9 72.8 875.6 67C884.3 61.2 880.2 61.2 886 56.6C891.8 52 887.3 55.2 893 53.2C898.7 51.2 897.3 52 903 50.6C908.7 49.2 904.3 50.2 910 48.9C915.7 47.6 914 47 920 46.8C926 46.6 922.7 46.4 928 48.2C933.3 50 930.6 49.7 936 52.2C941.4 54.7 939.3 54 944.3 55.6C949.3 57.2 946.5 56.1 951 57C955.5 57.9 953.7 56.5 957.7 58.3C961.7 60.1 959.6 59 963 62.5C966.4 66 964.8 65 968 68.8C971.2 72.6 968.4 68.3 972.6 74C976.8 79.7 977 80 980.6 86C984.2 92 982.5 89.9 983.5 91.9" fill="none" stroke="#5c1818" stroke-width="1" stroke-dasharray="13.5 4.3"/><line x1="1.9" y1="306.5" x2="812" y2="1.5" stroke="#1a1a66" stroke-width="0.9"/><line x1="90.1" y1="410.4" x2="1086" y2="36.4" stroke="#1a1a66" stroke-width="0.9"/><line x1="755" y1="95.6" x2="974" y2="78.4" stroke="#12126e" stroke-width="1.6"/></g><g font-family="'Liberation Sans', Arial, sans-serif" fill="none" stroke="#fff" stroke-width="5" stroke-opacity="0.7" stroke-linejoin="round"><text x="34.5" y="376" font-size="30" textLength="169" lengthAdjust="spacingAndGlyphs">economies</text><text x="205.5" y="376" font-size="30" textLength="67" lengthAdjust="spacingAndGlyphs">.com</text><text x="62.4" y="403.8" font-size="29" textLength="179" lengthAdjust="spacingAndGlyphs">FxNewsToday</text></g><g font-family="'Liberation Sans', Arial, sans-serif" opacity="0.92"><text x="34.5" y="376" font-size="30" fill="#f7d0b9" stroke="#f7d0b9" stroke-width="0.45" textLength="169" lengthAdjust="spacingAndGlyphs">economies</text><text x="205.5" y="376" font-size="30" fill="#d9d9d9" textLength="67" lengthAdjust="spacingAndGlyphs">.com</text><text x="62.4" y="403.8" font-size="29" fill="#d6d6d6" textLength="179" lengthAdjust="spacingAndGlyphs"><tspan fill="#e4e4e4">F</tspan><tspan fill="#f3d0d0">x</tspan><tspan fill="#d0d0d0" stroke="#d0d0d0" stroke-width="0.8">N</tspan>ews<tspan fill="#cccccc" stroke="#cccccc" stroke-width="0.6">T</tspan>oday</text></g><g stroke="#2e2e2e" fill="none"><rect x="1.5" y="1.4" width="1085" height="424.3" stroke-width="1"/><line x1="1.5" y1="425.8" x2="1086.5" y2="425.8" stroke-width="2"/><line x1="1.5" y1="426" x2="1.5" y2="506.4" stroke-width="1"/><line x1="1086.5" y1="426" x2="1086.5" y2="506.4" stroke-width="1"/><line x1="1" y1="506.4" x2="1087" y2="506.4" stroke-width="1"/></g><g font-family="'DejaVu Sans', 'Liberation Sans', sans-serif" font-size="6.6" fill="#000" stroke="#000" stroke-width="0.12"><text x="5.2" y="9.8" textLength="35" lengthAdjust="spacingAndGlyphs">USDJPY,H4</text><text x="45" y="9.8" textLength="98.6" lengthAdjust="spacingAndGlyphs">130.930 130.971 130.388 130.838</text></g><line x1="1086.5" y1="6.3" x2="1088.5" y2="6.3" stroke="#2e2e2e" stroke-width="1"/><text x="1090.6" y="8.8" font-family="'DejaVu Sans', 'Liberation Sans', sans-serif" font-size="6.8" fill="#000" stroke="#000" stroke-width="0.15" textLength="22.4" lengthAdjust="spacingAndGlyphs">140.410</text><line x1="1086.5" y1="29.6" x2="1088.5" y2="29.6" stroke="#2e2e2e" stroke-width="1"/><text x="1090.6" y="32.1" font-family="'DejaVu Sans', 'Liberation Sans', sans-serif" font-size="6.8" fill="#000" stroke="#000" stroke-width="0.15" textLength="22.4" lengthAdjust="spacingAndGlyphs">138.930</text><line x1="1086.5" y1="52.8" x2="1088.5" y2="52.8" stroke="#2e2e2e" stroke-width="1"/><text x="1090.6" y="55.3" font-family="'DejaVu Sans', 'Liberation Sans', sans-serif" font-size="6.8" fill="#000" stroke="#000" stroke-width="0.15" textLength="22.4" lengthAdjust="spacingAndGlyphs">137.450</text><line x1="1086.5" y1="76.1" x2="1088.5" y2="76.1" stroke="#2e2e2e" stroke-width="1"/><text x="1090.6" y="78.6" font-family="'DejaVu Sans', 'Liberation Sans', sans-serif" font-size="6.8" fill="#000" stroke="#000" stroke-width="0.15" textLength="22.4" lengthAdjust="spacingAndGlyphs">135.970</text><line x1="1086.5" y1="99.4" x2="1088.5" y2="99.4" stroke="#2e2e2e" stroke-width="1"/><text x="1090.6" y="101.9" font-family="'DejaVu Sans', 'Liberation Sans', sans-serif" font-size="6.8" fill="#000" stroke="#000" stroke-width="0.15" textLength="22.4" lengthAdjust="spacingAndGlyphs">134.490</text><line x1="1086.5" y1="122.6" x2="1088.5" y2="122.6" stroke="#2e2e2e" stroke-width="1"/><text x="1090.6" y="125.1" font-family="'DejaVu Sans', 'Liberation Sans', sans-serif" font-size="6.8" fill="#000" stroke="#000" stroke-width="0.15" textLength="22.4" lengthAdjust="spacingAndGlyphs">133.010</text><line x1="1086.5" y1="145.3" x2="1088.5" y2="145.3" stroke="#2e2e2e" stroke-width="1"/><text x="1090.6" y="147.8" font-family="'DejaVu Sans', 'Liberation Sans', sans-serif" font-size="6.8" fill="#000" stroke="#000" stroke-width="0.15" textLength="22.4" lengthAdjust="spacingAndGlyphs">131.570</text><line x1="1086.5" y1="168.5" x2="1088.5" y2="168.5" stroke="#2e2e2e" stroke-width="1"/><text x="1090.6" y="171.0" font-family="'DejaVu Sans', 'Liberation Sans', sans-serif" font-size="6.8" fill="#000" stroke="#000" stroke-width="0.15" textLength="22.4" lengthAdjust="spacingAndGlyphs">130.090</text><line x1="1086.5" y1="191.8" x2="1088.5" y2="191.8" stroke="#2e2e2e" stroke-width="1"/><text x="1090.6" y="194.3" font-family="'DejaVu Sans', 'Liberation Sans', sans-serif" font-size="6.8" fill="#000" stroke="#000" stroke-width="0.15" textLength="22.4" lengthAdjust="spacingAndGlyphs">128.610</text><line x1="1086.5" y1="215.1" x2="1088.5" y2="215.1" stroke="#2e2e2e" stroke-width="1"/><text x="1090.6" y="217.6" font-family="'DejaVu Sans', 'Liberation Sans', sans-serif" font-size="6.8" fill="#000" stroke="#000" stroke-width="0.15" textLength="22.4" lengthAdjust="spacingAndGlyphs">127.130</text><line x1="1086.5" y1="238.3" x2="1088.5" y2="238.3" stroke="#2e2e2e" stroke-width="1"/><text x="1090.6" y="240.8" font-family="'DejaVu Sans', 'Liberation Sans', sans-serif" font-size="6.8" fill="#000" stroke="#000" stroke-width="0.15" textLength="22.4" lengthAdjust="spacingAndGlyphs">125.650</text><line x1="1086.5" y1="261.6" x2="1088.5" y2="261.6" stroke="#2e2e2e" stroke-width="1"/><text x="1090.6" y="264.1" font-family="'DejaVu Sans', 'Liberation Sans', sans-serif" font-size="6.8" fill="#000" stroke="#000" stroke-width="0.15" textLength="22.4" lengthAdjust="spacingAndGlyphs">124.170</text><line x1="1086.5" y1="284.2" x2="1088.5" y2="284.2" stroke="#2e2e2e" stroke-width="1"/><text x="1090.6" y="286.7" font-family="'DejaVu Sans', 'Liberation Sans', sans-serif" font-size="6.8" fill="#000" stroke="#000" stroke-width="0.15" textLength="22.4" lengthAdjust="spacingAndGlyphs">122.730</text><line x1="1086.5" y1="307.5" x2="1088.5" y2="307.5" stroke="#2e2e2e" stroke-width="1"/><text x="1090.6" y="310.0" font-family="'DejaVu Sans', 'Liberation Sans', sans-serif" font-size="6.8" fill="#000" stroke="#000" stroke-width="0.15" textLength="22.4" lengthAdjust="spacingAndGlyphs">121.250</text><line x1="1086.5" y1="330.8" x2="1088.5" y2="330.8" stroke="#2e2e2e" stroke-width="1"/><text x="1090.6" y="333.3" font-family="'DejaVu Sans', 'Liberation Sans', sans-serif" font-size="6.8" fill="#000" stroke="#000" stroke-width="0.15" textLength="22.4" lengthAdjust="spacingAndGlyphs">119.770</text><line x1="1086.5" y1="354.0" x2="1088.5" y2="354.0" stroke="#2e2e2e" stroke-width="1"/><text x="1090.6" y="356.5" font-family="'DejaVu Sans', 'Liberation Sans', sans-serif" font-size="6.8" fill="#000" stroke="#000" stroke-width="0.15" textLength="22.4" lengthAdjust="spacingAndGlyphs">118.290</text><line x1="1086.5" y1="377.3" x2="1088.5" y2="377.3" stroke="#2e2e2e" stroke-width="1"/><text x="1090.6" y="379.8" font-family="'DejaVu Sans', 'Liberation Sans', sans-serif" font-size="6.8" fill="#000" stroke="#000" stroke-width="0.15" textLength="22.4" lengthAdjust="spacingAndGlyphs">116.810</text><line x1="1086.5" y1="399.9" x2="1088.5" y2="399.9" stroke="#2e2e2e" stroke-width="1"/><text x="1090.6" y="402.4" font-family="'DejaVu Sans', 'Liberation Sans', sans-serif" font-size="6.8" fill="#000" stroke="#000" stroke-width="0.15" textLength="22.4" lengthAdjust="spacingAndGlyphs">115.370</text><line x1="1086.5" y1="423.2" x2="1088.5" y2="423.2" stroke="#2e2e2e" stroke-width="1"/><text x="1090.6" y="425.7" font-family="'DejaVu Sans', 'Liberation Sans', sans-serif" font-size="6.8" fill="#000" stroke="#000" stroke-width="0.15" textLength="22.4" lengthAdjust="spacingAndGlyphs">113.890</text><rect x="1087.5" y="153.0" width="28.6" height="7.6" fill="#000"/><text x="1090.6" y="159.3" font-family="'DejaVu Sans', 'Liberation Sans', sans-serif" font-size="6.8" fill="#fff" textLength="22.4" lengthAdjust="spacingAndGlyphs">130.838</text><g clip-path="url(#cs)"><line x1="2" y1="443.3" x2="1086" y2="443.3" stroke="#b0b0b0" stroke-width="0.75" stroke-dasharray="2.2 2.2"/><line x1="2" y1="490.2" x2="1086" y2="490.2" stroke="#b0b0b0" stroke-width="0.75" stroke-dasharray="2.2 2.2"/><path d="M3.5 450.2C3.8 450.7 4.1 449.8 5 452.6C5.9 455.4 6.8 459.5 8.2 464.4C9.6 469.3 10.5 470.4 12.1 477C13.7 483.6 14.8 495.2 16.1 497.4C17.4 499.6 17.5 494.3 18.4 488C19.3 481.7 19.9 473.9 20.8 466C21.7 458.1 22.2 451.9 23.1 448.6C24 445.3 24.4 448.5 25.5 449.4C26.6 450.3 27.4 450.3 28.7 453.3C30 456.3 30.7 461.6 31.8 464.4C32.9 467.2 33.3 465.1 34.2 467.5C35.1 469.9 35.6 475.9 36.5 476.5C37.4 477.1 37.9 476.6 38.9 470.7C39.9 464.8 40.5 452.4 41.3 447C42.1 441.6 42 442.6 42.8 443.9C43.6 445.2 44.4 450.3 45.2 453.3C46 456.3 46.2 459.8 46.8 458.9C47.4 458 47.7 451.3 48.3 448.6C48.9 445.9 49.1 444.6 49.9 445.5C50.7 446.4 51.2 448.9 52.3 453.3C53.4 457.7 54.3 459.6 55.4 467.5C56.5 475.4 57 488.9 57.8 492.7C58.6 496.5 58.6 487.5 59.4 486.4C60.2 485.3 60.8 486.6 61.7 487.2C62.6 487.8 63.1 491.3 64.1 489.6C65.1 487.9 65.6 484.8 66.5 478.5C67.4 472.2 67.9 466.2 68.8 458C69.7 449.8 70.4 442.3 71.2 437.6C72 432.9 72 434.7 72.8 434.4C73.6 434.1 74.2 435 75.1 436C76 437 76.7 439.2 77.5 439.2C78.3 439.2 78.5 435.7 79.1 436C79.7 436.3 79.8 435 80.6 440.7C81.4 446.4 82.2 456.5 83 464.4C83.8 472.3 83.8 477.6 84.6 480.1C85.4 482.6 86.1 477.9 86.9 477C87.7 476.1 87.9 474.1 88.5 475.4C89.1 476.7 89.3 480.6 90.1 483.3C90.9 486 91.3 490.1 92.4 488.8C93.5 487.5 94.3 485.7 95.6 477C96.9 468.3 97.6 452.8 98.7 445.5C99.8 438.2 100 443.1 101.1 440.7C102.2 438.3 102.8 432.3 104.2 433.7C105.6 435.1 106.6 446.4 108.2 447.8C109.8 449.2 110.5 439.4 112.1 440.7C113.7 442 114.7 454.1 116.1 454.1C117.5 454.1 117.8 441.5 119.2 440.7C120.6 439.9 121.2 451.1 123.1 450.2C125 449.3 126.3 439.6 128.7 436C131.1 432.4 133 431.2 135 432.1C137 433 137.2 440.1 138.9 440.7C140.6 441.3 142.2 435.2 143.6 435.2C145 435.2 145.1 433.6 146 440.7C146.9 447.8 147.2 471 148.3 470.7C149.4 470.4 150.2 444.9 151.5 439.2C152.8 433.5 153.7 440.4 154.6 442.3C155.5 444.2 155.1 447.3 156.2 448.6C157.3 449.9 158.6 446.4 160.2 448.6C161.8 450.8 162.7 453 164.1 459.6C165.5 466.2 165.9 481.4 167.2 481.7C168.5 482 169.3 469.7 170.4 461.2C171.5 452.7 171.2 441.1 172.8 439.2C174.4 437.3 176.6 448.8 178.3 451.8C180 454.8 180.3 454.7 181.4 454.1C182.5 453.5 182.5 452.8 183.8 448.6C185.1 444.4 186.1 434.8 187.7 432.9C189.3 431 190.1 436.4 191.7 439.2C193.3 442 194 440.1 195.6 447C197.2 453.9 197.9 474.7 199.5 473.8C201.1 472.9 201.6 450.6 203.5 442.3C205.4 434 207.4 433 209 432.1C210.6 431.2 210.2 428 211.3 437.6C212.4 447.2 213.2 475.4 214.5 480.1C215.8 484.8 216.3 470 217.6 461.2C218.9 452.4 219.6 440.1 220.8 436C222 431.9 222.3 435.7 223.5 440.7C224.7 445.7 225 452.7 226.6 461.2C228.2 469.7 229.6 479.5 231.3 483.3C233 487.1 233.6 479.2 235.3 480.1C237 481 238.3 488.6 240 488C241.7 487.4 242.5 485.3 243.9 477C245.3 468.7 246 449.8 247.1 446.3C248.2 442.8 248.6 452.2 249.4 459.6C250.2 467 250.2 482.3 251 483.3C251.8 484.3 252.2 474 253.4 464.4C254.6 454.8 255.7 439.6 257 435.2C258.3 430.8 258.4 433.9 259.7 442.3C261 450.7 261.9 474.6 263.6 477C265.3 479.4 266.7 455.4 268.3 454.1C269.9 452.8 270.1 473.7 271.5 470.7C272.9 467.7 274.1 447.1 275.4 439.2C276.7 431.3 277 431.9 278.1 431.3C279.2 430.7 279.5 431 280.9 436C282.3 441 283.3 449.1 284.9 456.5C286.5 463.9 287.4 474.6 288.8 473C290.2 471.4 290.8 456.2 291.7 448.6C292.6 441 292.5 432.4 293.5 435.2C294.5 438 295.4 461.4 296.7 462.8C298 464.2 298.5 445.1 299.8 442.3C301.1 439.5 301.6 450.2 303 448.6C304.4 447 305.3 436 306.9 434.4C308.5 432.8 309 432.8 310.9 440.7C312.8 448.6 314.8 467.8 316.4 473.8C318 479.8 317.4 477.3 318.7 470.7C320 464.1 321.3 444.5 322.7 440.7C324.1 436.9 324.4 442.7 325.8 451.8C327.2 460.9 328.5 480.4 329.8 486.4C331.1 492.4 331.2 487.7 332.1 481.7C333 475.7 333.4 466 334.5 456.5C335.6 447 336.3 437.9 337.6 434.4C338.9 430.9 339.9 436.7 341.1 439.2C342.3 441.7 342.6 442.3 343.5 447C344.4 451.7 344.5 461.8 345.8 462.8C347.1 463.8 348.2 458.4 349.8 451.8C351.4 445.2 352.3 433.8 353.7 429.7C355.1 425.6 355.2 430.7 356.8 431.3C358.4 431.9 360 430.1 361.6 432.9C363.2 435.7 363.3 434.8 364.7 445.5C366.1 456.2 367.3 481.1 368.7 486.4C370.1 491.7 370.7 477.6 371.8 472.2C372.9 466.8 372.9 464 374.2 459.6C375.5 455.2 377.2 453.5 378.1 450.2C379 446.9 378.4 442.8 378.9 443.1C379.4 443.4 379.7 448.6 380.5 451.8C381.3 455 381.7 459.5 382.8 458.9C383.9 458.3 384.9 449.1 386 448.6C387.1 448.1 386.9 448.1 388.3 456.5C389.7 464.9 391.7 485 393.1 490.4C394.5 495.8 394.3 487.2 395.4 483.3C396.5 479.4 397.2 469.6 398.6 470.7C400 471.8 401.1 488.5 402.5 488.8C403.9 489.1 404.3 482.1 405.7 472.2C407.1 462.3 407.7 447.7 409.6 439.2C411.5 430.7 413.1 430 415.1 429.7C417.1 429.4 418.2 432.2 419.8 437.6C421.4 443 421.7 446.4 423 456.5C424.3 466.6 424.8 483.9 426.1 488C427.4 492.1 427.9 484.9 429.3 477C430.7 469.1 431.6 451.4 433.2 448.6C434.8 445.8 435.8 458.7 437.2 462.8C438.6 466.9 438.9 470.4 440.3 469.1C441.7 467.8 442.6 461.4 444.2 456.5C445.8 451.6 446.9 445.6 448.2 444.7C449.5 443.8 449.4 444.4 450.5 451.8C451.6 459.2 452.4 476 453.7 481.7C455 487.4 455.4 487 456.8 480.1C458.2 473.2 459.6 455.3 460.8 447C462 438.7 461.8 439 463 438.4C464.2 437.8 465.2 440.3 466.6 443.9C468 447.5 468.7 454.9 469.8 456.5C470.9 458.1 471.2 455.7 472.1 451.8C473 447.9 473.7 437.8 474.5 436.8C475.3 435.8 475.1 435.2 476.1 447C477.1 458.8 478.4 488 479.7 495.9C481 503.8 481.2 489.9 482.4 486.4C483.6 482.9 484.1 486.4 485.5 478.5C486.9 470.6 488.3 449.5 489.4 447C490.5 444.5 490.4 464.5 491 465.9C491.6 467.3 491.8 454.1 492.6 454.1C493.4 454.1 493.4 457.2 495 465.9C496.6 474.6 498.8 493 500.5 497.4C502.2 501.8 502 496.5 503.6 488C505.2 479.5 506.4 464.8 508.3 454.9C510.2 445 511.7 439.7 513.1 438.4C514.5 437.1 513.7 441.8 515.4 448.6C517.1 455.4 519.6 473.5 521.7 472.2C523.8 470.9 524.6 446.7 526 442.3C527.4 437.9 527.6 442.3 528.8 450.2C530 458.1 530.3 473 532 481.7C533.7 490.4 535.8 494.8 537.5 493.5C539.2 492.2 539.3 475.2 540.6 475.4C541.9 475.6 542.9 493.7 544.2 494.3C545.5 494.9 545.6 486.4 546.9 478.5C548.2 470.6 549.5 456.2 550.9 454.9C552.3 453.6 552.6 466.4 554 472.2C555.4 478 556.7 485 558 484.1C559.3 483.2 559.2 476 560.3 467.5C561.4 459 562.4 445 563.5 441.5C564.6 438 564.5 440 565.8 450.2C567.1 460.4 568.5 485.1 569.8 492.7C571.1 500.3 570.5 497.4 572.1 488C573.7 478.6 575.9 455.6 577.6 445.5C579.3 435.4 579.5 432.9 580.8 437.6C582.1 442.3 582.9 465.3 584.2 469.1C585.5 472.9 586.3 457.8 587.4 456.5C588.5 455.2 588.7 459.7 589.8 462.8C590.9 465.9 591.5 474.2 592.9 472.2C594.3 470.2 595.5 454.8 596.8 452.6C598.1 450.4 597.9 463.3 599.2 461.2C600.5 459.1 601.7 446.4 603.1 442.3C604.5 438.2 605 439.9 606.3 440.7C607.6 441.5 608 446.3 609.4 446.3C610.8 446.3 612 443.7 613.4 440.7C614.8 437.7 615.2 432.6 616.5 431.3C617.8 430 618.4 434.1 619.7 434.4C621 434.7 621.7 431.6 622.8 432.9C623.9 434.2 623.9 431.9 625.2 440.7C626.5 449.5 627.5 472.3 629.1 477C630.7 481.7 631.7 471.7 633.1 464.4C634.5 457.1 634.9 446.1 636.2 440.7C637.5 435.3 638 434.9 639.4 437.6C640.8 440.3 642 453.5 643.3 454.1C644.6 454.7 644.6 445.3 645.7 440.7C646.8 436.1 647.2 431.9 648.8 431.3C650.4 430.7 652.1 433.7 653.5 437.6C654.9 441.5 654.8 452.1 655.9 451C657 449.9 657.5 434.8 659.1 432.1C660.7 429.4 662.2 434.9 663.8 437.6C665.4 440.3 665.8 438.4 666.9 445.5C668 452.6 667.9 473.2 669.3 473C670.7 472.8 672.4 447.7 674 444.7C675.6 441.7 675.6 460.1 677.2 458C678.8 455.9 680.5 437.5 681.9 434.4C683.3 431.3 683.1 433.2 684.2 442.3C685.3 451.4 685.8 476 687.4 480.1C689 484.2 690.2 471.9 692.1 462.8C694 453.7 695.4 438.8 696.8 434.4C698.2 430 698.3 437.9 699.2 440.7C700.1 443.5 699.9 438.8 701.1 448.6C702.3 458.4 703.6 484.2 705 489.6C706.4 495 706.6 474.1 708.2 475.4C709.8 476.7 711.2 496.5 712.9 495.9C714.6 495.3 715.2 484.6 716.8 472.2C718.4 459.8 719.4 440.3 720.8 433.7C722.2 427.1 722.3 432 723.9 439.2C725.5 446.4 726.6 469.3 728.7 469.9C730.8 470.5 732.2 450.2 734.2 442.3C736.2 434.4 737.2 430.5 738.9 430.5C740.6 430.5 741.4 432.4 742.8 442.3C744.2 452.2 744.9 475.4 746 480.1C747.1 484.8 746.9 463.7 748.3 465.9C749.7 468.1 751.4 487.3 753.1 491.1C754.8 494.9 754.8 494.7 757 484.8C759.2 474.9 761.7 442.4 764.1 441.5C766.5 440.6 767.1 480.9 768.8 480.1C770.5 479.3 771.2 444.8 772.8 437.6C774.4 430.4 775.3 444.2 776.7 443.9C778.1 443.6 778.1 433.5 779.8 436C781.5 438.5 783.7 454.3 785.4 456.5C787.1 458.7 787.1 446.7 788.5 447C789.9 447.3 790.7 448.9 792.4 458C794.1 467.1 795.5 487 797.2 492.7C798.9 498.4 799.5 490.8 801.1 486.4C802.7 482 803.4 472.3 805 470.7C806.6 469.1 807.4 482 809 478.5C810.6 475 811.5 462.1 812.9 453.3C814.3 444.5 815 437.5 816.1 434.4C817.2 431.3 817.4 434.4 818.4 437.6C819.4 440.8 819.9 443.6 821.1 450.2C822.3 456.8 822.8 462.7 824.2 470.7C825.6 478.7 826.6 495.4 828.2 490.4C829.8 485.4 831 454.2 832.1 445.5C833.2 436.8 832.4 447 833.7 447C835 447 836.4 440.1 838.4 445.5C840.4 450.9 841.8 472.9 843.9 473.8C846 474.7 846.6 457 848.7 450.2C850.8 443.4 852.5 441.9 854.2 440C855.9 438.1 856.4 438.7 857.3 440.7C858.2 442.7 857.6 439.8 858.9 450.2C860.2 460.6 861.7 488.3 863.6 492.7C865.5 497.1 866.9 482.6 868.3 472.2C869.7 461.8 869.6 443.8 870.7 440.7C871.8 437.6 872.5 457.8 873.9 456.5C875.3 455.2 876.2 437.6 877.8 434.4C879.4 431.2 880.1 436.3 881.7 440.7C883.3 445.1 883.6 445.8 885.7 456.5C887.8 467.2 889.8 489.9 892 494.3C894.2 498.7 894.8 483.2 896.7 478.5C898.6 473.8 899.8 468.8 901.4 470.7C903 472.6 903.2 492.7 904.6 488C906 483.3 906.9 454.6 908.5 447C910.1 439.4 911 448.6 912.4 450.2C913.8 451.8 914.6 456.5 915.6 454.9C916.6 453.3 916.4 443.2 917.2 442.3C918 441.4 918.6 446.7 919.5 450.2C920.4 453.7 920.8 450.8 921.9 459.6C923 468.4 923.6 490.5 925 494.3C926.4 498.1 927.6 479.4 929 478.5C930.4 477.6 930.7 489.6 932.1 489.6C933.5 489.6 934.4 488.3 936.1 478.5C937.8 468.7 939.1 443.2 940.8 440.7C942.5 438.2 943.3 461.3 944.7 466C946.1 470.7 946.5 470.4 947.9 464.4C949.3 458.4 950.4 439.5 951.8 436C953.2 432.5 953.7 442.9 955 447C956.3 451.1 956.8 447.7 958.1 456.5C959.4 465.3 959.7 482.1 961.3 491.1C962.9 500.1 964.3 500.8 966 501.4C967.7 502 968.2 500.8 969.9 494.3C971.6 487.8 973 472.3 974.6 469.1C976.2 465.9 976.2 472.2 977.8 478.5C979.4 484.8 980.9 497.3 982.5 500.6C984.1 503.9 985.1 496.2 985.7 495.1" fill="none" stroke="#e87890" stroke-width="0.95"/><path d="M2.4 450.2C2.6 450.6 3.2 450.5 3.9 452.6C4.6 454.7 6 460.7 7.1 464.4C8.2 468.1 9.8 472.1 11 477C12.2 481.9 14.1 495.8 15 497.4C15.9 499 16.6 492.7 17.3 488C18 483.3 19 471.9 19.7 466C20.4 460.1 21.3 451.1 22 448.6C22.7 446.1 23.6 448.7 24.4 449.4C25.2 450.1 26.7 451.1 27.6 453.3C28.5 455.6 29.9 462.3 30.7 464.4C31.5 466.5 32.4 465.7 33.1 467.5C33.8 469.3 34.7 476 35.4 476.5C36.1 477 37.1 475.1 37.8 470.7C38.5 466.3 39.6 451 40.2 447C40.8 443 41.1 443 41.7 443.9C42.3 444.8 43.5 451.1 44.1 453.3C44.7 455.6 45.2 459.6 45.7 458.9C46.2 458.2 46.7 450.6 47.2 448.6C47.7 446.6 48.2 444.8 48.8 445.5C49.4 446.2 50.4 450 51.2 453.3C52 456.6 53.5 461.6 54.3 467.5C55.1 473.4 56.1 489.9 56.7 492.7C57.3 495.5 57.7 487.2 58.3 486.4C58.9 485.6 59.9 486.7 60.6 487.2C61.3 487.7 62.3 490.9 63 489.6C63.7 488.3 64.7 483.2 65.4 478.5C66.1 473.8 67 464.1 67.7 458C68.4 451.9 69.5 441.1 70.1 437.6C70.7 434.1 71.1 434.6 71.7 434.4C72.3 434.2 73.3 435.3 74 436C74.7 436.7 75.8 439.2 76.4 439.2C77 439.2 77.5 435.8 78 436C78.5 436.2 78.9 436.4 79.5 440.7C80.1 445 81.3 458.5 81.9 464.4C82.5 470.3 82.9 478.2 83.5 480.1C84.1 482 85.2 477.7 85.8 477C86.4 476.3 86.9 474.5 87.4 475.4C87.9 476.3 88.4 481.3 89 483.3C89.6 485.3 90.5 489.7 91.3 488.8C92.1 487.9 93.6 483.5 94.5 477C95.4 470.5 96.8 450.9 97.6 445.5C98.4 440.1 99.2 442.5 100 440.7C100.8 438.9 102 432.6 103.1 433.7C104.2 434.8 105.9 446.8 107.1 447.8C108.3 448.9 109.8 439.8 111 440.7C112.2 441.6 113.9 454.1 115 454.1C116.1 454.1 117 441.3 118.1 440.7C119.1 440.1 120.6 450.9 122 450.2C123.4 449.5 125.8 438.7 127.6 436C129.4 433.3 132.4 431.4 133.9 432.1C135.4 432.8 136.5 440.2 137.8 440.7C139.1 441.2 141.4 435.2 142.5 435.2C143.6 435.2 144.2 435.4 144.9 440.7C145.6 446 146.4 470.9 147.2 470.7C148 470.5 149.5 443.5 150.4 439.2C151.3 434.9 152.8 440.9 153.5 442.3C154.2 443.7 154.3 447.7 155.1 448.6C155.9 449.5 157.9 447 159.1 448.6C160.3 450.2 161.9 454.6 163 459.6C164.1 464.6 165.2 481.5 166.1 481.7C167 481.9 168.5 467.6 169.3 461.2C170.1 454.8 170.5 440.6 171.7 439.2C172.9 437.8 175.9 449.6 177.2 451.8C178.5 454 179.5 454.6 180.3 454.1C181.1 453.6 181.8 451.8 182.7 448.6C183.6 445.4 185.4 434.3 186.6 432.9C187.8 431.5 189.4 437.1 190.6 439.2C191.8 441.3 193.3 441.8 194.5 447C195.7 452.2 197.2 474.5 198.4 473.8C199.6 473.1 201 448.6 202.4 442.3C203.8 436 206.7 432.8 207.9 432.1C209.1 431.4 209.4 430.4 210.2 437.6C211 444.8 212.5 476.6 213.4 480.1C214.3 483.6 215.6 467.8 216.5 461.2C217.4 454.6 218.8 439.1 219.7 436C220.6 432.9 221.5 436.9 222.4 440.7C223.3 444.5 224.3 454.8 225.5 461.2C226.7 467.6 228.9 480.5 230.2 483.3C231.5 486.1 232.9 479.4 234.2 480.1C235.5 480.8 237.6 488.5 238.9 488C240.2 487.5 241.7 483.3 242.8 477C243.9 470.7 245.2 448.9 246 446.3C246.8 443.7 247.7 454.1 248.3 459.6C248.9 465.2 249.3 482.6 249.9 483.3C250.5 484 251.4 471.6 252.3 464.4C253.2 457.2 255 438.5 255.9 435.2C256.8 431.9 257.6 436 258.6 442.3C259.6 448.6 261.2 475.2 262.5 477C263.8 478.8 266 455 267.2 454.1C268.4 453.2 269.3 472.9 270.4 470.7C271.5 468.5 273.3 445.1 274.3 439.2C275.3 433.3 276.2 431.8 277 431.3C277.8 430.8 278.8 432.2 279.8 436C280.8 439.8 282.6 450.9 283.8 456.5C285 462.1 286.7 474.2 287.7 473C288.7 471.8 289.9 454.3 290.6 448.6C291.3 442.9 291.6 433.1 292.4 435.2C293.1 437.3 294.7 461.7 295.6 462.8C296.5 463.9 297.8 444.4 298.7 442.3C299.6 440.2 300.8 449.8 301.9 448.6C303 447.4 304.6 435.6 305.8 434.4C307 433.2 308.4 434.8 309.8 440.7C311.2 446.6 314.1 469.3 315.3 473.8C316.5 478.3 316.7 475.7 317.6 470.7C318.5 465.7 320.5 443.5 321.6 440.7C322.7 437.9 323.6 444.9 324.7 451.8C325.8 458.7 327.8 481.9 328.7 486.4C329.6 490.9 330.3 486.2 331 481.7C331.7 477.2 332.6 463.6 333.4 456.5C334.2 449.4 335.5 437 336.5 434.4C337.5 431.8 339.1 437.3 340 439.2C340.9 441.1 341.7 443.5 342.4 447C343.1 450.5 343.8 462.1 344.7 462.8C345.6 463.5 347.5 456.8 348.7 451.8C349.9 446.8 351.6 432.8 352.6 429.7C353.7 426.6 354.5 430.8 355.7 431.3C356.9 431.8 359.3 430.8 360.5 432.9C361.7 435 362.5 437.5 363.6 445.5C364.7 453.5 366.5 482.4 367.6 486.4C368.7 490.4 369.9 476.2 370.7 472.2C371.5 468.2 372.2 462.9 373.1 459.6C374 456.3 376.3 452.7 377 450.2C377.7 447.7 377.4 442.9 377.8 443.1C378.2 443.3 378.8 449.4 379.4 451.8C380 454.2 380.9 459.4 381.7 458.9C382.5 458.4 384.1 449 384.9 448.6C385.7 448.2 386.1 450.2 387.2 456.5C388.3 462.8 390.9 486.4 392 490.4C393.1 494.4 393.5 486.3 394.3 483.3C395.1 480.3 396.4 469.9 397.5 470.7C398.6 471.5 400.3 488.6 401.4 488.8C402.5 489 403.5 479.6 404.6 472.2C405.7 464.8 407.1 445.6 408.5 439.2C409.9 432.8 412.5 429.9 414 429.7C415.5 429.5 417.5 433.6 418.7 437.6C419.9 441.6 421 448.9 421.9 456.5C422.8 464.1 424.1 484.9 425 488C425.9 491.1 427.1 482.9 428.2 477C429.3 471.1 430.9 450.7 432.1 448.6C433.3 446.5 435 459.7 436.1 462.8C437.2 465.9 438.1 470 439.2 469.1C440.2 468.2 441.9 460.2 443.1 456.5C444.3 452.8 446.2 445.4 447.1 444.7C448 444 448.6 446.2 449.4 451.8C450.2 457.4 451.7 477.5 452.6 481.7C453.5 485.9 454.6 485.3 455.7 480.1C456.8 474.9 458.8 453.3 459.7 447C460.6 440.7 461 438.9 461.9 438.4C462.8 437.9 464.5 441.2 465.5 443.9C466.5 446.6 467.9 455.3 468.7 456.5C469.5 457.7 470.3 454.8 471 451.8C471.7 448.8 472.8 437.5 473.4 436.8C474 436.1 474.2 438.1 475 447C475.8 455.9 477.7 490 478.6 495.9C479.5 501.8 480.4 489 481.3 486.4C482.2 483.8 483.3 484.4 484.4 478.5C485.4 472.6 487.5 448.9 488.3 447C489.1 445.1 489.4 464.8 489.9 465.9C490.4 467 490.9 454.1 491.5 454.1C492.1 454.1 492.7 459.4 493.9 465.9C495.1 472.4 498.1 494.1 499.4 497.4C500.7 500.7 501.3 494.4 502.5 488C503.7 481.6 505.8 462.3 507.2 454.9C508.6 447.5 510.9 439.3 512 438.4C513.1 437.5 513 443.5 514.3 448.6C515.6 453.7 519 473.1 520.6 472.2C522.2 471.3 523.8 445.6 524.9 442.3C526 439 526.8 444.3 527.7 450.2C528.6 456.1 529.6 475.2 530.9 481.7C532.2 488.2 535.1 494.4 536.4 493.5C537.7 492.6 538.5 475.3 539.5 475.4C540.5 475.5 542.2 493.8 543.1 494.3C544 494.8 544.8 484.4 545.8 478.5C546.8 472.6 548.7 455.8 549.8 454.9C550.9 454 551.8 467.8 552.9 472.2C554 476.6 556 484.8 556.9 484.1C557.8 483.4 558.4 473.9 559.2 467.5C560 461.1 561.6 444.1 562.4 441.5C563.2 438.9 563.8 442.5 564.7 450.2C565.6 457.9 567.8 487 568.7 492.7C569.6 498.4 569.8 495.1 571 488C572.2 480.9 575.2 453.1 576.5 445.5C577.8 437.9 578.7 434.1 579.7 437.6C580.7 441.1 582.1 466.3 583.1 469.1C584.1 471.9 585.5 457.4 586.3 456.5C587.1 455.6 587.9 460.4 588.7 462.8C589.5 465.2 590.8 473.7 591.8 472.2C592.8 470.7 594.8 454.2 595.7 452.6C596.6 451 597.2 462.7 598.1 461.2C599 459.7 600.9 445.4 602 442.3C603.1 439.2 604.3 440.1 605.2 440.7C606.1 441.3 607.2 446.3 608.3 446.3C609.4 446.3 611.2 442.9 612.3 440.7C613.4 438.4 614.5 432.2 615.4 431.3C616.3 430.4 617.7 434.2 618.6 434.4C619.5 434.6 620.9 432 621.7 432.9C622.5 433.8 623.2 434.1 624.1 440.7C625 447.3 626.8 473.4 628 477C629.2 480.6 630.9 469.8 632 464.4C633.1 459 634.2 444.7 635.1 440.7C636 436.7 637.2 435.6 638.3 437.6C639.4 439.6 641.3 453.6 642.2 454.1C643.1 454.6 643.8 444.1 644.6 440.7C645.4 437.3 646.5 431.8 647.7 431.3C648.9 430.8 651.3 434.6 652.4 437.6C653.5 440.6 654 451.8 654.8 451C655.6 450.2 656.8 434.1 658 432.1C659.2 430.1 661.5 435.6 662.7 437.6C663.9 439.6 665 440.2 665.8 445.5C666.6 450.8 667.1 473.1 668.2 473C669.3 472.9 671.7 446.9 672.9 444.7C674.1 442.4 674.9 459.5 676.1 458C677.3 456.5 679.8 436.8 680.8 434.4C681.8 432 682.3 435.4 683.1 442.3C683.9 449.2 685.1 477 686.3 480.1C687.5 483.2 689.6 469.7 691 462.8C692.4 455.9 694.6 437.7 695.7 434.4C696.8 431.1 697.5 438.6 698.1 440.7C698.7 442.8 699.1 441.3 700 448.6C700.9 455.9 702.8 485.6 703.9 489.6C705 493.6 705.9 474.5 707.1 475.4C708.3 476.3 710.5 496.4 711.8 495.9C713.1 495.4 714.5 481.5 715.7 472.2C716.9 462.9 718.6 438.6 719.7 433.7C720.8 428.8 721.6 433.8 722.8 439.2C724 444.6 726.1 469.4 727.6 469.9C729.1 470.4 731.6 448.2 733.1 442.3C734.6 436.4 736.5 430.5 737.8 430.5C739.1 430.5 740.6 434.9 741.7 442.3C742.8 449.7 744.1 476.6 744.9 480.1C745.7 483.6 746.1 464.2 747.2 465.9C748.3 467.5 750.7 488.3 752 491.1C753.3 493.9 754.2 492.2 755.9 484.8C757.5 477.4 761.2 442.2 763 441.5C764.8 440.8 766.4 480.7 767.7 480.1C769 479.5 770.5 443 771.7 437.6C772.9 432.2 774.6 444.1 775.6 443.9C776.6 443.7 777.4 434.1 778.7 436C780 437.9 783 454.9 784.3 456.5C785.6 458.1 786.4 446.8 787.4 447C788.4 447.2 790 451.1 791.3 458C792.6 464.9 794.8 488.4 796.1 492.7C797.4 497 798.8 489.7 800 486.4C801.2 483.1 802.7 471.9 803.9 470.7C805.1 469.5 806.7 481.1 807.9 478.5C809.1 475.9 810.7 459.9 811.8 453.3C812.9 446.7 814.2 436.8 815 434.4C815.8 432 816.5 435.2 817.3 437.6C818 440 819.1 445.2 820 450.2C820.9 455.2 822 464.7 823.1 470.7C824.2 476.7 825.9 494.2 827.1 490.4C828.3 486.6 830.2 452 831 445.5C831.8 439 831.7 447 832.6 447C833.5 447 835.8 441.5 837.3 445.5C838.8 449.5 841.3 473.1 842.8 473.8C844.3 474.5 846.1 455.3 847.6 450.2C849.1 445.1 851.8 441.4 853.1 440C854.4 438.6 855.5 439.2 856.2 440.7C856.9 442.2 856.9 442.4 857.8 450.2C858.7 458 861.1 489.4 862.5 492.7C863.9 496 866.1 480 867.2 472.2C868.3 464.4 868.8 443.1 869.6 440.7C870.4 438.3 871.7 457.4 872.8 456.5C873.9 455.6 875.5 436.8 876.7 434.4C877.9 432 879.4 437.4 880.6 440.7C881.8 444 883.1 448.5 884.6 456.5C886.1 464.5 889.2 491 890.9 494.3C892.5 497.6 894.2 482 895.6 478.5C897 475 899.1 469.3 900.3 470.7C901.5 472.1 902.4 491.6 903.5 488C904.6 484.4 906.2 452.7 907.4 447C908.6 441.3 910.2 449 911.3 450.2C912.4 451.4 913.8 456.1 914.5 454.9C915.2 453.7 915.5 443 916.1 442.3C916.7 441.6 917.7 447.6 918.4 450.2C919.1 452.8 920 453 920.8 459.6C921.6 466.2 922.8 491.5 923.9 494.3C925 497.1 926.8 479.2 927.9 478.5C929 477.8 929.9 489.6 931 489.6C932.1 489.6 933.7 485.8 935 478.5C936.3 471.2 938.4 442.6 939.7 440.7C941 438.8 942.5 462.4 943.6 466C944.7 469.6 945.7 468.9 946.8 464.4C947.9 459.9 949.6 438.6 950.7 436C951.8 433.4 953 443.9 953.9 447C954.8 450.1 956.1 449.9 957 456.5C957.9 463.1 959 484.4 960.2 491.1C961.4 497.8 963.6 500.9 964.9 501.4C966.2 501.9 967.5 499.1 968.8 494.3C970.1 489.5 972.3 471.5 973.5 469.1C974.7 466.7 975.5 473.8 976.7 478.5C977.9 483.2 980.2 498.1 981.4 500.6C982.6 503.1 984.1 495.9 984.6 495.1" fill="none" stroke="#262670" stroke-width="0.85"/></g><text x="4.7" y="435.6" font-family="'DejaVu Sans', 'Liberation Sans', sans-serif" font-size="7" fill="#111" stroke="#111" stroke-width="0.12" textLength="85.8" lengthAdjust="spacingAndGlyphs">Stoch(5,3,3) 14.6267 10.4960</text><text x="1090.6" y="434.1" font-family="'DejaVu Sans', 'Liberation Sans', sans-serif" font-size="6.8" fill="#111">100</text><text x="1090.6" y="445.8" font-family="'DejaVu Sans', 'Liberation Sans', sans-serif" font-size="6.8" fill="#111">80</text><text x="1090.6" y="492.7" font-family="'DejaVu Sans', 'Liberation Sans', sans-serif" font-size="6.8" fill="#111">20</text><line x1="2.3" y1="506.4" x2="2.3" y2="508.8" stroke="#2e2e2e" stroke-width="1"/><text x="1.7" y="515.5" font-family="'DejaVu Sans', 'Liberation Sans', sans-serif" font-size="7" fill="#000" stroke="#000" stroke-width="0.15" textLength="36.4" lengthAdjust="spacingAndGlyphs">18 Feb 2022</text><line x1="47.1" y1="506.4" x2="47.1" y2="508.8" stroke="#2e2e2e" stroke-width="1"/><text x="46.5" y="515.5" font-family="'DejaVu Sans', 'Liberation Sans', sans-serif" font-size="7" fill="#000" stroke="#000" stroke-width="0.15" textLength="38.2" lengthAdjust="spacingAndGlyphs">25 Feb 16:00</text><line x1="91.9" y1="506.4" x2="91.9" y2="508.8" stroke="#2e2e2e" stroke-width="1"/><text x="91.3" y="515.5" font-family="'DejaVu Sans', 'Liberation Sans', sans-serif" font-size="7" fill="#000" stroke="#000" stroke-width="0.15" textLength="34.6" lengthAdjust="spacingAndGlyphs">7 Mar 00:00</text><line x1="136.7" y1="506.4" x2="136.7" y2="508.8" stroke="#2e2e2e" stroke-width="1"/><text x="136.1" y="515.5" font-family="'DejaVu Sans', 'Liberation Sans', sans-serif" font-size="7" fill="#000" stroke="#000" stroke-width="0.15" textLength="38.2" lengthAdjust="spacingAndGlyphs">14 Mar 08:00</text><line x1="181.5" y1="506.4" x2="181.5" y2="508.8" stroke="#2e2e2e" stroke-width="1"/><text x="180.9" y="515.5" font-family="'DejaVu Sans', 'Liberation Sans', sans-serif" font-size="7" fill="#000" stroke="#000" stroke-width="0.15" textLength="38.2" lengthAdjust="spacingAndGlyphs">21 Mar 16:00</text><line x1="226.3" y1="506.4" x2="226.3" y2="508.8" stroke="#2e2e2e" stroke-width="1"/><text x="225.7" y="515.5" font-family="'DejaVu Sans', 'Liberation Sans', sans-serif" font-size="7" fill="#000" stroke="#000" stroke-width="0.15" textLength="38.2" lengthAdjust="spacingAndGlyphs">29 Mar 00:00</text><line x1="271.1" y1="506.4" x2="271.1" y2="508.8" stroke="#2e2e2e" stroke-width="1"/><text x="270.5" y="515.5" font-family="'DejaVu Sans', 'Liberation Sans', sans-serif" font-size="7" fill="#000" stroke="#000" stroke-width="0.15" textLength="33.1" lengthAdjust="spacingAndGlyphs">5 Apr 08:00</text><line x1="315.9" y1="506.4" x2="315.9" y2="508.8" stroke="#2e2e2e" stroke-width="1"/><text x="315.3" y="515.5" font-family="'DejaVu Sans', 'Liberation Sans', sans-serif" font-size="7" fill="#000" stroke="#000" stroke-width="0.15" textLength="36.7" lengthAdjust="spacingAndGlyphs">12 Apr 16:00</text><line x1="360.7" y1="506.4" x2="360.7" y2="508.8" stroke="#2e2e2e" stroke-width="1"/><text x="360.1" y="515.5" font-family="'DejaVu Sans', 'Liberation Sans', sans-serif" font-size="7" fill="#000" stroke="#000" stroke-width="0.15" textLength="36.7" lengthAdjust="spacingAndGlyphs">20 Apr 00:00</text><line x1="405.5" y1="506.4" x2="405.5" y2="508.8" stroke="#2e2e2e" stroke-width="1"/><text x="404.9" y="515.5" font-family="'DejaVu Sans', 'Liberation Sans', sans-serif" font-size="7" fill="#000" stroke="#000" stroke-width="0.15" textLength="36.7" lengthAdjust="spacingAndGlyphs">27 Apr 08:00</text><line x1="450.3" y1="506.4" x2="450.3" y2="508.8" stroke="#2e2e2e" stroke-width="1"/><text x="449.7" y="515.5" font-family="'DejaVu Sans', 'Liberation Sans', sans-serif" font-size="7" fill="#000" stroke="#000" stroke-width="0.15" textLength="35.6" lengthAdjust="spacingAndGlyphs">4 May 16:00</text><line x1="495.1" y1="506.4" x2="495.1" y2="508.8" stroke="#2e2e2e" stroke-width="1"/><text x="494.5" y="515.5" font-family="'DejaVu Sans', 'Liberation Sans', sans-serif" font-size="7" fill="#000" stroke="#000" stroke-width="0.15" textLength="39.2" lengthAdjust="spacingAndGlyphs">12 May 00:00</text><line x1="539.9" y1="506.4" x2="539.9" y2="508.8" stroke="#2e2e2e" stroke-width="1"/><text x="539.3" y="515.5" font-family="'DejaVu Sans', 'Liberation Sans', sans-serif" font-size="7" fill="#000" stroke="#000" stroke-width="0.15" textLength="39.2" lengthAdjust="spacingAndGlyphs">19 May 08:00</text><line x1="584.7" y1="506.4" x2="584.7" y2="508.8" stroke="#2e2e2e" stroke-width="1"/><text x="584.1" y="515.5" font-family="'DejaVu Sans', 'Liberation Sans', sans-serif" font-size="7" fill="#000" stroke="#000" stroke-width="0.15" textLength="39.2" lengthAdjust="spacingAndGlyphs">26 May 16:00</text><line x1="629.5" y1="506.4" x2="629.5" y2="508.8" stroke="#2e2e2e" stroke-width="1"/><text x="628.9" y="515.5" font-family="'DejaVu Sans', 'Liberation Sans', sans-serif" font-size="7" fill="#000" stroke="#000" stroke-width="0.15" textLength="33.8" lengthAdjust="spacingAndGlyphs">3 Jun 00:00</text><line x1="674.3" y1="506.4" x2="674.3" y2="508.8" stroke="#2e2e2e" stroke-width="1"/><text x="673.7" y="515.5" font-family="'DejaVu Sans', 'Liberation Sans', sans-serif" font-size="7" fill="#000" stroke="#000" stroke-width="0.15" textLength="37.4" lengthAdjust="spacingAndGlyphs">10 Jun 08:00</text><line x1="719.1" y1="506.4" x2="719.1" y2="508.8" stroke="#2e2e2e" stroke-width="1"/><text x="718.5" y="515.5" font-family="'DejaVu Sans', 'Liberation Sans', sans-serif" font-size="7" fill="#000" stroke="#000" stroke-width="0.15" textLength="37.4" lengthAdjust="spacingAndGlyphs">17 Jun 16:00</text><line x1="763.9" y1="506.4" x2="763.9" y2="508.8" stroke="#2e2e2e" stroke-width="1"/><text x="763.3" y="515.5" font-family="'DejaVu Sans', 'Liberation Sans', sans-serif" font-size="7" fill="#000" stroke="#000" stroke-width="0.15" textLength="37.4" lengthAdjust="spacingAndGlyphs">27 Jun 00:00</text><line x1="808.7" y1="506.4" x2="808.7" y2="508.8" stroke="#2e2e2e" stroke-width="1"/><text x="808.1" y="515.5" font-family="'DejaVu Sans', 'Liberation Sans', sans-serif" font-size="7" fill="#000" stroke="#000" stroke-width="0.15" textLength="31.7" lengthAdjust="spacingAndGlyphs">4 Jul 08:00</text><line x1="853.5" y1="506.4" x2="853.5" y2="508.8" stroke="#2e2e2e" stroke-width="1"/><text x="852.9" y="515.5" font-family="'DejaVu Sans', 'Liberation Sans', sans-serif" font-size="7" fill="#000" stroke="#000" stroke-width="0.15" textLength="34.8" lengthAdjust="spacingAndGlyphs">11 Jul 16:00</text><line x1="898.3" y1="506.4" x2="898.3" y2="508.8" stroke="#2e2e2e" stroke-width="1"/><text x="897.7" y="515.5" font-family="'DejaVu Sans', 'Liberation Sans', sans-serif" font-size="7" fill="#000" stroke="#000" stroke-width="0.15" textLength="35.3" lengthAdjust="spacingAndGlyphs">19 Jul 00:00</text><line x1="943.1" y1="506.4" x2="943.1" y2="508.8" stroke="#2e2e2e" stroke-width="1"/><text x="942.5" y="515.5" font-family="'DejaVu Sans', 'Liberation Sans', sans-serif" font-size="7" fill="#000" stroke="#000" stroke-width="0.15" textLength="35.3" lengthAdjust="spacingAndGlyphs">26 Jul 08:00</text><defs><filter id="glow" x="-20%" y="-40%" width="140%" height="180%"><feMorphology in="SourceAlpha" operator="dilate" radius="0.8" result="d"/><feGaussianBlur in="d" stdDeviation="1.3" result="b"/><feFlood flood-color="#505050" flood-opacity="0.85"/><feComposite in2="b" operator="in" result="sh"/><feMerge><feMergeNode in="sh"/><feMergeNode in="SourceGraphic"/></feMerge></filter></defs><polygon points="1031.5,487.3 1043.5,499.3 1031.5,511.3 1019.5,499.3" fill="#3a3222"/><polygon points="1020.5,499.3 1031.5,488.3 1031.5,492.1 1024.3,499.3" fill="#d8d8d0"/><polygon points="1031.5,488.3 1042.5,499.3 1038.7,499.3 1031.5,492.1" fill="#4a4030"/><polygon points="1042.5,499.3 1031.5,510.3 1031.5,506.5 1038.7,499.3" fill="#3a2a10"/><polygon points="1031.5,510.3 1020.5,499.3 1024.3,499.3 1031.5,506.5" fill="#d4c02a"/><polygon points="1031.5,492.1 1038.7,499.3 1031.5,506.5 1024.3,499.3" fill="#2a2010"/><polygon points="1031.5,493.4 1037.4,499.3 1031.5,505.2 1025.6,499.3" fill="#fbfbee"/><polygon points="1031.5,495.9 1034.9,499.3 1031.5,502.7 1028.1,499.3" fill="#eef6dc" stroke="#8cae3c" stroke-width="1"/><g filter="url(#glow)" fill="#fff" font-weight="bold"><text x="1050.9" y="497.3" font-family="'Liberation Sans', Arial, sans-serif" font-size="8.6" textLength="56.7" lengthAdjust="spacingAndGlyphs">SINO SOUND</text><text x="1050.9" y="506.9" font-family="'Liberation Sans', 'Noto Sans CJK TC', 'Noto Sans CJK SC', sans-serif" font-size="8.2"><tspan x="1050.9">漢</tspan><tspan x="1067">聲</tspan><tspan x="1083.2">集</tspan><tspan x="1099.4">團</tspan></text></g></svg></body></html>
